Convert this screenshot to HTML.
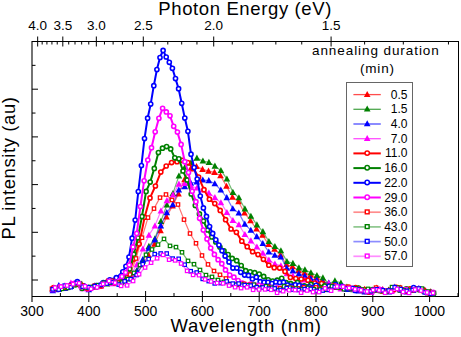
<!DOCTYPE html>
<html><head><meta charset="utf-8"><style>
html,body{margin:0;padding:0;background:#fff;width:461px;height:337px;overflow:hidden}
svg{display:block}
</style></head><body>
<svg width="461" height="337" viewBox="0 0 461 337">
<line x1="32" y1="41.5" x2="458.5" y2="41.5" stroke="#000"/>
<line x1="32" y1="296.5" x2="458.5" y2="296.5" stroke="#000"/>
<line x1="32" y1="41" x2="32" y2="302" stroke="#000" stroke-width="1.1"/>
<line x1="458.5" y1="41" x2="458.5" y2="297" stroke="#000"/>
<line x1="60.40" y1="293" x2="60.40" y2="296" stroke="#000"/>
<line x1="88.80" y1="291" x2="88.80" y2="302" stroke="#000"/>
<line x1="117.20" y1="293" x2="117.20" y2="296" stroke="#000"/>
<line x1="145.60" y1="291" x2="145.60" y2="302" stroke="#000"/>
<line x1="174.00" y1="293" x2="174.00" y2="296" stroke="#000"/>
<line x1="202.40" y1="291" x2="202.40" y2="302" stroke="#000"/>
<line x1="230.80" y1="293" x2="230.80" y2="296" stroke="#000"/>
<line x1="259.20" y1="291" x2="259.20" y2="302" stroke="#000"/>
<line x1="287.60" y1="293" x2="287.60" y2="296" stroke="#000"/>
<line x1="316.00" y1="291" x2="316.00" y2="302" stroke="#000"/>
<line x1="344.40" y1="293" x2="344.40" y2="296" stroke="#000"/>
<line x1="372.80" y1="291" x2="372.80" y2="302" stroke="#000"/>
<line x1="401.20" y1="293" x2="401.20" y2="296" stroke="#000"/>
<line x1="429.60" y1="291" x2="429.60" y2="302" stroke="#000"/>
<line x1="458.00" y1="293" x2="458.00" y2="296" stroke="#000"/>
<line x1="448.46" y1="41" x2="448.46" y2="44.5" stroke="#000"/>
<line x1="403.31" y1="41" x2="403.31" y2="44.5" stroke="#000"/>
<line x1="364.62" y1="41" x2="364.62" y2="44.5" stroke="#000"/>
<line x1="331.09" y1="36.5" x2="331.09" y2="46.5" stroke="#000"/>
<line x1="301.74" y1="41" x2="301.74" y2="44.5" stroke="#000"/>
<line x1="275.85" y1="41" x2="275.85" y2="44.5" stroke="#000"/>
<line x1="252.84" y1="41" x2="252.84" y2="44.5" stroke="#000"/>
<line x1="232.25" y1="41" x2="232.25" y2="44.5" stroke="#000"/>
<line x1="213.71" y1="36.5" x2="213.71" y2="46.5" stroke="#000"/>
<line x1="196.95" y1="41" x2="196.95" y2="44.5" stroke="#000"/>
<line x1="181.70" y1="41" x2="181.70" y2="44.5" stroke="#000"/>
<line x1="167.79" y1="41" x2="167.79" y2="44.5" stroke="#000"/>
<line x1="155.03" y1="41" x2="155.03" y2="44.5" stroke="#000"/>
<line x1="143.29" y1="36.5" x2="143.29" y2="46.5" stroke="#000"/>
<line x1="132.46" y1="41" x2="132.46" y2="44.5" stroke="#000"/>
<line x1="122.43" y1="41" x2="122.43" y2="44.5" stroke="#000"/>
<line x1="113.11" y1="41" x2="113.11" y2="44.5" stroke="#000"/>
<line x1="104.44" y1="41" x2="104.44" y2="44.5" stroke="#000"/>
<line x1="96.34" y1="36.5" x2="96.34" y2="46.5" stroke="#000"/>
<line x1="88.77" y1="41" x2="88.77" y2="44.5" stroke="#000"/>
<line x1="81.67" y1="41" x2="81.67" y2="44.5" stroke="#000"/>
<line x1="75.00" y1="41" x2="75.00" y2="44.5" stroke="#000"/>
<line x1="68.73" y1="41" x2="68.73" y2="44.5" stroke="#000"/>
<line x1="62.81" y1="36.5" x2="62.81" y2="46.5" stroke="#000"/>
<line x1="57.22" y1="41" x2="57.22" y2="44.5" stroke="#000"/>
<line x1="51.93" y1="41" x2="51.93" y2="44.5" stroke="#000"/>
<line x1="46.92" y1="41" x2="46.92" y2="44.5" stroke="#000"/>
<line x1="42.17" y1="41" x2="42.17" y2="44.5" stroke="#000"/>
<line x1="37.66" y1="36.5" x2="37.66" y2="46.5" stroke="#000"/>
<line x1="32" y1="65.35" x2="35.5" y2="65.35" stroke="#000"/>
<line x1="32" y1="89.20" x2="38" y2="89.20" stroke="#000"/>
<line x1="32" y1="113.05" x2="35.5" y2="113.05" stroke="#000"/>
<line x1="32" y1="136.90" x2="38" y2="136.90" stroke="#000"/>
<line x1="32" y1="160.75" x2="35.5" y2="160.75" stroke="#000"/>
<line x1="32" y1="184.60" x2="38" y2="184.60" stroke="#000"/>
<line x1="32" y1="208.45" x2="35.5" y2="208.45" stroke="#000"/>
<line x1="32" y1="232.30" x2="38" y2="232.30" stroke="#000"/>
<line x1="32" y1="256.15" x2="35.5" y2="256.15" stroke="#000"/>
<line x1="32" y1="280.00" x2="38" y2="280.00" stroke="#000"/>
<text x="32.0" y="315.8" text-anchor="middle" style="font-family:'Liberation Sans',sans-serif;font-size:14px">300</text>
<text x="88.8" y="315.8" text-anchor="middle" style="font-family:'Liberation Sans',sans-serif;font-size:14px">400</text>
<text x="145.6" y="315.8" text-anchor="middle" style="font-family:'Liberation Sans',sans-serif;font-size:14px">500</text>
<text x="202.4" y="315.8" text-anchor="middle" style="font-family:'Liberation Sans',sans-serif;font-size:14px">600</text>
<text x="259.2" y="315.8" text-anchor="middle" style="font-family:'Liberation Sans',sans-serif;font-size:14px">700</text>
<text x="316.0" y="315.8" text-anchor="middle" style="font-family:'Liberation Sans',sans-serif;font-size:14px">800</text>
<text x="372.8" y="315.8" text-anchor="middle" style="font-family:'Liberation Sans',sans-serif;font-size:14px">900</text>
<text x="429.6" y="315.8" text-anchor="middle" style="font-family:'Liberation Sans',sans-serif;font-size:14px">1000</text>
<text x="37.7" y="30" text-anchor="middle" style="font-family:'Liberation Sans',sans-serif;font-size:13.5px">4.0</text>
<text x="62.8" y="30" text-anchor="middle" style="font-family:'Liberation Sans',sans-serif;font-size:13.5px">3.5</text>
<text x="96.3" y="30" text-anchor="middle" style="font-family:'Liberation Sans',sans-serif;font-size:13.5px">3.0</text>
<text x="143.3" y="30" text-anchor="middle" style="font-family:'Liberation Sans',sans-serif;font-size:13.5px">2.5</text>
<text x="213.7" y="30" text-anchor="middle" style="font-family:'Liberation Sans',sans-serif;font-size:13.5px">2.0</text>
<text x="331.1" y="30" text-anchor="middle" style="font-family:'Liberation Sans',sans-serif;font-size:13.5px">1.5</text>
<text x="158.3" y="14.6" style="font-family:'Liberation Sans',sans-serif;font-size:18.5px;letter-spacing:0.62px">Photon Energy (eV)</text>
<text x="170.5" y="331.5" style="font-family:'Liberation Sans',sans-serif;font-size:18.5px;letter-spacing:0.74px">Wavelength (nm)</text>
<text transform="translate(14.6,239.5) rotate(-90)" x="0" y="0" style="font-family:'Liberation Sans',sans-serif;font-size:18.5px;letter-spacing:0.59px">PL intensity (au)</text>
<text x="312" y="54.7" style="font-family:'Liberation Sans',sans-serif;font-size:13.5px;letter-spacing:0.92px">annealing duration</text>
<text x="360" y="72.6" style="font-family:'Liberation Sans',sans-serif;font-size:13.5px;letter-spacing:0.8px">(min)</text>
<g>
<g>
<polyline points="52.5,289.0 58.5,289.5 64.5,288.3 70.5,285.3 76.5,282.9 82.5,286.7 88.5,288.5 94.5,287.1 100.5,285.8 106.5,281.4 112.5,282.8 118.5,280.3 124.5,279.4 130.5,275.8 136.5,274.2 142.5,264.7 148.5,255.2 154.5,244.2 160.5,230.6 166.5,216.9 172.5,205.9 178.5,194.0 184.5,179.6 190.5,169.0 196.5,166.4 202.5,169.3 208.5,171.1 214.5,172.3 220.5,175.7 226.5,186.2 232.5,197.2 238.5,201.6 244.5,213.0 250.5,220.7 256.5,229.0 262.5,235.1 268.5,244.5 274.5,249.2 280.5,255.0 286.5,264.5 292.5,266.6 298.5,270.6 304.5,272.9 310.5,275.1 316.5,277.3 322.5,280.5 328.5,283.9 334.5,285.6 340.5,287.0 346.5,288.0 352.5,289.3 358.5,288.4 364.5,289.2 370.5,291.8 376.5,288.0 382.5,289.4 388.5,290.1 394.5,288.2 400.5,288.1 406.5,289.5 412.5,290.3 418.5,289.5 424.5,290.9 430.5,291.8" fill="none" stroke="#ff0000" stroke-width="1.2" stroke-linejoin="round" stroke-opacity="0.55"/>
<path d="M52.5,285.5L55.8,291.6L49.2,291.6Z" fill="#ff0000"/>
<path d="M58.5,286.0L61.8,292.1L55.2,292.1Z" fill="#ff0000"/>
<path d="M64.5,284.8L67.8,290.9L61.2,290.9Z" fill="#ff0000"/>
<path d="M70.5,281.8L73.8,287.9L67.2,287.9Z" fill="#ff0000"/>
<path d="M76.5,279.4L79.8,285.5L73.2,285.5Z" fill="#ff0000"/>
<path d="M82.5,283.2L85.8,289.3L79.2,289.3Z" fill="#ff0000"/>
<path d="M88.5,285.0L91.8,291.1L85.2,291.1Z" fill="#ff0000"/>
<path d="M94.5,283.6L97.8,289.7L91.2,289.7Z" fill="#ff0000"/>
<path d="M100.5,282.3L103.8,288.4L97.2,288.4Z" fill="#ff0000"/>
<path d="M106.5,277.9L109.8,284.0L103.2,284.0Z" fill="#ff0000"/>
<path d="M112.5,279.3L115.8,285.4L109.2,285.4Z" fill="#ff0000"/>
<path d="M118.5,276.8L121.8,282.9L115.2,282.9Z" fill="#ff0000"/>
<path d="M124.5,275.9L127.8,282.0L121.2,282.0Z" fill="#ff0000"/>
<path d="M130.5,272.3L133.8,278.4L127.2,278.4Z" fill="#ff0000"/>
<path d="M136.5,270.7L139.8,276.8L133.2,276.8Z" fill="#ff0000"/>
<path d="M142.5,261.2L145.8,267.3L139.2,267.3Z" fill="#ff0000"/>
<path d="M148.5,251.7L151.8,257.8L145.2,257.8Z" fill="#ff0000"/>
<path d="M154.5,240.7L157.8,246.8L151.2,246.8Z" fill="#ff0000"/>
<path d="M160.5,227.1L163.8,233.2L157.2,233.2Z" fill="#ff0000"/>
<path d="M166.5,213.4L169.8,219.5L163.2,219.5Z" fill="#ff0000"/>
<path d="M172.5,202.4L175.8,208.5L169.2,208.5Z" fill="#ff0000"/>
<path d="M178.5,190.5L181.8,196.6L175.2,196.6Z" fill="#ff0000"/>
<path d="M184.5,176.1L187.8,182.2L181.2,182.2Z" fill="#ff0000"/>
<path d="M190.5,165.5L193.8,171.6L187.2,171.6Z" fill="#ff0000"/>
<path d="M196.5,162.9L199.8,169.0L193.2,169.0Z" fill="#ff0000"/>
<path d="M202.5,165.8L205.8,171.9L199.2,171.9Z" fill="#ff0000"/>
<path d="M208.5,167.6L211.8,173.7L205.2,173.7Z" fill="#ff0000"/>
<path d="M214.5,168.8L217.8,174.9L211.2,174.9Z" fill="#ff0000"/>
<path d="M220.5,172.2L223.8,178.3L217.2,178.3Z" fill="#ff0000"/>
<path d="M226.5,182.7L229.8,188.8L223.2,188.8Z" fill="#ff0000"/>
<path d="M232.5,193.7L235.8,199.8L229.2,199.8Z" fill="#ff0000"/>
<path d="M238.5,198.1L241.8,204.2L235.2,204.2Z" fill="#ff0000"/>
<path d="M244.5,209.5L247.8,215.6L241.2,215.6Z" fill="#ff0000"/>
<path d="M250.5,217.2L253.8,223.3L247.2,223.3Z" fill="#ff0000"/>
<path d="M256.5,225.5L259.8,231.6L253.2,231.6Z" fill="#ff0000"/>
<path d="M262.5,231.6L265.8,237.7L259.2,237.7Z" fill="#ff0000"/>
<path d="M268.5,241.0L271.8,247.1L265.2,247.1Z" fill="#ff0000"/>
<path d="M274.5,245.7L277.8,251.8L271.2,251.8Z" fill="#ff0000"/>
<path d="M280.5,251.5L283.8,257.6L277.2,257.6Z" fill="#ff0000"/>
<path d="M286.5,261.0L289.8,267.1L283.2,267.1Z" fill="#ff0000"/>
<path d="M292.5,263.1L295.8,269.2L289.2,269.2Z" fill="#ff0000"/>
<path d="M298.5,267.1L301.8,273.2L295.2,273.2Z" fill="#ff0000"/>
<path d="M304.5,269.4L307.8,275.5L301.2,275.5Z" fill="#ff0000"/>
<path d="M310.5,271.6L313.8,277.7L307.2,277.7Z" fill="#ff0000"/>
<path d="M316.5,273.8L319.8,279.9L313.2,279.9Z" fill="#ff0000"/>
<path d="M322.5,277.0L325.8,283.1L319.2,283.1Z" fill="#ff0000"/>
<path d="M328.5,280.4L331.8,286.5L325.2,286.5Z" fill="#ff0000"/>
<path d="M334.5,282.1L337.8,288.2L331.2,288.2Z" fill="#ff0000"/>
<path d="M340.5,283.5L343.8,289.6L337.2,289.6Z" fill="#ff0000"/>
<path d="M346.5,284.5L349.8,290.6L343.2,290.6Z" fill="#ff0000"/>
<path d="M352.5,285.8L355.8,291.9L349.2,291.9Z" fill="#ff0000"/>
<path d="M358.5,284.9L361.8,291.0L355.2,291.0Z" fill="#ff0000"/>
<path d="M364.5,285.7L367.8,291.8L361.2,291.8Z" fill="#ff0000"/>
<path d="M370.5,288.3L373.8,294.4L367.2,294.4Z" fill="#ff0000"/>
<path d="M376.5,284.5L379.8,290.6L373.2,290.6Z" fill="#ff0000"/>
<path d="M382.5,285.9L385.8,292.0L379.2,292.0Z" fill="#ff0000"/>
<path d="M388.5,286.6L391.8,292.7L385.2,292.7Z" fill="#ff0000"/>
<path d="M394.5,284.7L397.8,290.8L391.2,290.8Z" fill="#ff0000"/>
<path d="M400.5,284.6L403.8,290.7L397.2,290.7Z" fill="#ff0000"/>
<path d="M406.5,286.0L409.8,292.1L403.2,292.1Z" fill="#ff0000"/>
<path d="M412.5,286.8L415.8,292.9L409.2,292.9Z" fill="#ff0000"/>
<path d="M418.5,286.0L421.8,292.1L415.2,292.1Z" fill="#ff0000"/>
<path d="M424.5,287.4L427.8,293.5L421.2,293.5Z" fill="#ff0000"/>
<path d="M430.5,288.3L433.8,294.4L427.2,294.4Z" fill="#ff0000"/>
</g>
<g>
<polyline points="52.9,289.0 58.9,289.1 64.9,287.8 70.9,286.3 76.9,284.3 82.9,286.4 88.9,287.4 94.9,285.8 100.9,284.9 106.9,283.8 112.9,281.3 118.9,280.9 124.9,278.1 130.9,276.5 136.9,270.7 142.9,261.0 148.9,246.3 154.9,238.8 160.9,221.3 166.9,205.0 172.9,193.4 178.9,175.9 184.9,167.2 190.9,162.9 196.9,158.1 202.9,161.0 208.9,162.3 214.9,166.1 220.9,170.4 226.9,178.9 232.9,192.3 238.9,197.7 244.9,208.8 250.9,216.2 256.9,224.8 262.9,231.6 268.9,241.5 274.9,246.5 280.9,250.7 286.9,261.4 292.9,263.3 298.9,267.8 304.9,269.7 310.9,272.7 316.9,275.5 322.9,277.8 328.9,283.7 334.9,280.8 340.9,283.0 346.9,287.1 352.9,289.3 358.9,289.9 364.9,290.4 370.9,291.1 376.9,288.4 382.9,290.8 388.9,290.2 394.9,288.2 400.9,288.7 406.9,291.5 412.9,288.6 418.9,289.6 424.9,290.7 430.9,292.0" fill="none" stroke="#008000" stroke-width="1.2" stroke-linejoin="round" stroke-opacity="0.55"/>
<path d="M52.9,285.5L56.2,291.6L49.6,291.6Z" fill="#008000"/>
<path d="M58.9,285.6L62.2,291.7L55.6,291.7Z" fill="#008000"/>
<path d="M64.9,284.3L68.2,290.4L61.6,290.4Z" fill="#008000"/>
<path d="M70.9,282.8L74.2,288.9L67.6,288.9Z" fill="#008000"/>
<path d="M76.9,280.8L80.2,286.9L73.6,286.9Z" fill="#008000"/>
<path d="M82.9,282.9L86.2,289.0L79.6,289.0Z" fill="#008000"/>
<path d="M88.9,283.9L92.2,290.0L85.6,290.0Z" fill="#008000"/>
<path d="M94.9,282.3L98.2,288.4L91.6,288.4Z" fill="#008000"/>
<path d="M100.9,281.4L104.2,287.5L97.6,287.5Z" fill="#008000"/>
<path d="M106.9,280.3L110.2,286.4L103.6,286.4Z" fill="#008000"/>
<path d="M112.9,277.8L116.2,283.9L109.6,283.9Z" fill="#008000"/>
<path d="M118.9,277.4L122.2,283.5L115.6,283.5Z" fill="#008000"/>
<path d="M124.9,274.6L128.2,280.7L121.6,280.7Z" fill="#008000"/>
<path d="M130.9,273.0L134.2,279.1L127.6,279.1Z" fill="#008000"/>
<path d="M136.9,267.2L140.2,273.3L133.6,273.3Z" fill="#008000"/>
<path d="M142.9,257.5L146.2,263.6L139.6,263.6Z" fill="#008000"/>
<path d="M148.9,242.8L152.2,248.9L145.6,248.9Z" fill="#008000"/>
<path d="M154.9,235.3L158.2,241.4L151.6,241.4Z" fill="#008000"/>
<path d="M160.9,217.8L164.2,223.9L157.6,223.9Z" fill="#008000"/>
<path d="M166.9,201.5L170.2,207.6L163.6,207.6Z" fill="#008000"/>
<path d="M172.9,189.9L176.2,196.0L169.6,196.0Z" fill="#008000"/>
<path d="M178.9,172.4L182.2,178.5L175.6,178.5Z" fill="#008000"/>
<path d="M184.9,163.7L188.2,169.8L181.6,169.8Z" fill="#008000"/>
<path d="M190.9,159.4L194.2,165.5L187.6,165.5Z" fill="#008000"/>
<path d="M196.9,154.6L200.2,160.7L193.6,160.7Z" fill="#008000"/>
<path d="M202.9,157.5L206.2,163.6L199.6,163.6Z" fill="#008000"/>
<path d="M208.9,158.8L212.2,164.9L205.6,164.9Z" fill="#008000"/>
<path d="M214.9,162.6L218.2,168.7L211.6,168.7Z" fill="#008000"/>
<path d="M220.9,166.9L224.2,173.0L217.6,173.0Z" fill="#008000"/>
<path d="M226.9,175.4L230.2,181.5L223.6,181.5Z" fill="#008000"/>
<path d="M232.9,188.8L236.2,194.9L229.6,194.9Z" fill="#008000"/>
<path d="M238.9,194.2L242.2,200.3L235.6,200.3Z" fill="#008000"/>
<path d="M244.9,205.3L248.2,211.4L241.6,211.4Z" fill="#008000"/>
<path d="M250.9,212.7L254.2,218.8L247.6,218.8Z" fill="#008000"/>
<path d="M256.9,221.3L260.2,227.4L253.6,227.4Z" fill="#008000"/>
<path d="M262.9,228.1L266.2,234.2L259.6,234.2Z" fill="#008000"/>
<path d="M268.9,238.0L272.2,244.1L265.6,244.1Z" fill="#008000"/>
<path d="M274.9,243.0L278.2,249.1L271.6,249.1Z" fill="#008000"/>
<path d="M280.9,247.2L284.2,253.3L277.6,253.3Z" fill="#008000"/>
<path d="M286.9,257.9L290.2,264.0L283.6,264.0Z" fill="#008000"/>
<path d="M292.9,259.8L296.2,265.9L289.6,265.9Z" fill="#008000"/>
<path d="M298.9,264.3L302.2,270.4L295.6,270.4Z" fill="#008000"/>
<path d="M304.9,266.2L308.2,272.3L301.6,272.3Z" fill="#008000"/>
<path d="M310.9,269.2L314.2,275.3L307.6,275.3Z" fill="#008000"/>
<path d="M316.9,272.0L320.2,278.1L313.6,278.1Z" fill="#008000"/>
<path d="M322.9,274.3L326.2,280.4L319.6,280.4Z" fill="#008000"/>
<path d="M328.9,280.2L332.2,286.3L325.6,286.3Z" fill="#008000"/>
<path d="M334.9,277.3L338.2,283.4L331.6,283.4Z" fill="#008000"/>
<path d="M340.9,279.5L344.2,285.6L337.6,285.6Z" fill="#008000"/>
<path d="M346.9,283.6L350.2,289.7L343.6,289.7Z" fill="#008000"/>
<path d="M352.9,285.8L356.2,291.9L349.6,291.9Z" fill="#008000"/>
<path d="M358.9,286.4L362.2,292.5L355.6,292.5Z" fill="#008000"/>
<path d="M364.9,286.9L368.2,293.0L361.6,293.0Z" fill="#008000"/>
<path d="M370.9,287.6L374.2,293.7L367.6,293.7Z" fill="#008000"/>
<path d="M376.9,284.9L380.2,291.0L373.6,291.0Z" fill="#008000"/>
<path d="M382.9,287.3L386.2,293.4L379.6,293.4Z" fill="#008000"/>
<path d="M388.9,286.7L392.2,292.8L385.6,292.8Z" fill="#008000"/>
<path d="M394.9,284.7L398.2,290.8L391.6,290.8Z" fill="#008000"/>
<path d="M400.9,285.2L404.2,291.3L397.6,291.3Z" fill="#008000"/>
<path d="M406.9,288.0L410.2,294.1L403.6,294.1Z" fill="#008000"/>
<path d="M412.9,285.1L416.2,291.2L409.6,291.2Z" fill="#008000"/>
<path d="M418.9,286.1L422.2,292.2L415.6,292.2Z" fill="#008000"/>
<path d="M424.9,287.2L428.2,293.3L421.6,293.3Z" fill="#008000"/>
<path d="M430.9,288.5L434.2,294.6L427.6,294.6Z" fill="#008000"/>
</g>
<g>
<polyline points="52.8,290.6 58.8,285.4 64.8,288.1 70.8,285.7 76.8,284.1 82.8,287.8 88.8,289.6 94.8,287.1 100.8,284.6 106.8,283.5 112.8,281.7 118.8,280.2 124.8,280.7 130.8,278.1 136.8,270.9 142.8,259.4 148.8,248.1 154.8,239.8 160.8,225.8 166.8,212.6 172.8,204.6 178.8,189.9 184.8,186.7 190.8,183.1 196.8,182.0 202.8,180.0 208.8,180.6 214.8,183.7 220.8,190.0 226.8,197.6 232.8,208.7 238.8,212.9 244.8,224.1 250.8,230.2 256.8,236.6 262.8,243.4 268.8,251.9 274.8,255.2 280.8,256.9 286.8,268.1 292.8,270.8 298.8,273.9 304.8,276.0 310.8,278.8 316.8,280.0 322.8,282.6 328.8,282.9 334.8,287.3 340.8,287.1 346.8,289.4 352.8,289.1 358.8,291.0 364.8,292.0 370.8,291.8 376.8,289.8 382.8,290.4 388.8,291.9 394.8,287.1 400.8,289.6 406.8,291.8 412.8,290.3 418.8,288.5 424.8,290.5 430.8,292.2" fill="none" stroke="#0000ff" stroke-width="1.2" stroke-linejoin="round" stroke-opacity="0.55"/>
<path d="M52.8,287.1L56.1,293.2L49.5,293.2Z" fill="#0000ff"/>
<path d="M58.8,281.9L62.1,288.0L55.5,288.0Z" fill="#0000ff"/>
<path d="M64.8,284.6L68.1,290.7L61.5,290.7Z" fill="#0000ff"/>
<path d="M70.8,282.2L74.1,288.3L67.5,288.3Z" fill="#0000ff"/>
<path d="M76.8,280.6L80.1,286.7L73.5,286.7Z" fill="#0000ff"/>
<path d="M82.8,284.3L86.1,290.4L79.5,290.4Z" fill="#0000ff"/>
<path d="M88.8,286.1L92.1,292.2L85.5,292.2Z" fill="#0000ff"/>
<path d="M94.8,283.6L98.1,289.7L91.5,289.7Z" fill="#0000ff"/>
<path d="M100.8,281.1L104.1,287.2L97.5,287.2Z" fill="#0000ff"/>
<path d="M106.8,280.0L110.1,286.1L103.5,286.1Z" fill="#0000ff"/>
<path d="M112.8,278.2L116.1,284.3L109.5,284.3Z" fill="#0000ff"/>
<path d="M118.8,276.7L122.1,282.8L115.5,282.8Z" fill="#0000ff"/>
<path d="M124.8,277.2L128.1,283.3L121.5,283.3Z" fill="#0000ff"/>
<path d="M130.8,274.6L134.1,280.7L127.5,280.7Z" fill="#0000ff"/>
<path d="M136.8,267.4L140.1,273.5L133.5,273.5Z" fill="#0000ff"/>
<path d="M142.8,255.9L146.1,262.0L139.5,262.0Z" fill="#0000ff"/>
<path d="M148.8,244.6L152.1,250.7L145.5,250.7Z" fill="#0000ff"/>
<path d="M154.8,236.3L158.1,242.4L151.5,242.4Z" fill="#0000ff"/>
<path d="M160.8,222.3L164.1,228.4L157.5,228.4Z" fill="#0000ff"/>
<path d="M166.8,209.1L170.1,215.2L163.5,215.2Z" fill="#0000ff"/>
<path d="M172.8,201.1L176.1,207.2L169.5,207.2Z" fill="#0000ff"/>
<path d="M178.8,186.4L182.1,192.5L175.5,192.5Z" fill="#0000ff"/>
<path d="M184.8,183.2L188.1,189.3L181.5,189.3Z" fill="#0000ff"/>
<path d="M190.8,179.6L194.1,185.7L187.5,185.7Z" fill="#0000ff"/>
<path d="M196.8,178.5L200.1,184.6L193.5,184.6Z" fill="#0000ff"/>
<path d="M202.8,176.5L206.1,182.6L199.5,182.6Z" fill="#0000ff"/>
<path d="M208.8,177.1L212.1,183.2L205.5,183.2Z" fill="#0000ff"/>
<path d="M214.8,180.2L218.1,186.3L211.5,186.3Z" fill="#0000ff"/>
<path d="M220.8,186.5L224.1,192.6L217.5,192.6Z" fill="#0000ff"/>
<path d="M226.8,194.1L230.1,200.2L223.5,200.2Z" fill="#0000ff"/>
<path d="M232.8,205.2L236.1,211.3L229.5,211.3Z" fill="#0000ff"/>
<path d="M238.8,209.4L242.1,215.5L235.5,215.5Z" fill="#0000ff"/>
<path d="M244.8,220.6L248.1,226.7L241.5,226.7Z" fill="#0000ff"/>
<path d="M250.8,226.7L254.1,232.8L247.5,232.8Z" fill="#0000ff"/>
<path d="M256.8,233.1L260.1,239.2L253.5,239.2Z" fill="#0000ff"/>
<path d="M262.8,239.9L266.1,246.0L259.5,246.0Z" fill="#0000ff"/>
<path d="M268.8,248.4L272.1,254.5L265.5,254.5Z" fill="#0000ff"/>
<path d="M274.8,251.7L278.1,257.8L271.5,257.8Z" fill="#0000ff"/>
<path d="M280.8,253.4L284.1,259.5L277.5,259.5Z" fill="#0000ff"/>
<path d="M286.8,264.6L290.1,270.7L283.5,270.7Z" fill="#0000ff"/>
<path d="M292.8,267.3L296.1,273.4L289.5,273.4Z" fill="#0000ff"/>
<path d="M298.8,270.4L302.1,276.5L295.5,276.5Z" fill="#0000ff"/>
<path d="M304.8,272.5L308.1,278.6L301.5,278.6Z" fill="#0000ff"/>
<path d="M310.8,275.3L314.1,281.4L307.5,281.4Z" fill="#0000ff"/>
<path d="M316.8,276.5L320.1,282.6L313.5,282.6Z" fill="#0000ff"/>
<path d="M322.8,279.1L326.1,285.2L319.5,285.2Z" fill="#0000ff"/>
<path d="M328.8,279.4L332.1,285.5L325.5,285.5Z" fill="#0000ff"/>
<path d="M334.8,283.8L338.1,289.9L331.5,289.9Z" fill="#0000ff"/>
<path d="M340.8,283.6L344.1,289.7L337.5,289.7Z" fill="#0000ff"/>
<path d="M346.8,285.9L350.1,292.0L343.5,292.0Z" fill="#0000ff"/>
<path d="M352.8,285.6L356.1,291.7L349.5,291.7Z" fill="#0000ff"/>
<path d="M358.8,287.5L362.1,293.6L355.5,293.6Z" fill="#0000ff"/>
<path d="M364.8,288.5L368.1,294.6L361.5,294.6Z" fill="#0000ff"/>
<path d="M370.8,288.3L374.1,294.4L367.5,294.4Z" fill="#0000ff"/>
<path d="M376.8,286.3L380.1,292.4L373.5,292.4Z" fill="#0000ff"/>
<path d="M382.8,286.9L386.1,293.0L379.5,293.0Z" fill="#0000ff"/>
<path d="M388.8,288.4L392.1,294.5L385.5,294.5Z" fill="#0000ff"/>
<path d="M394.8,283.6L398.1,289.7L391.5,289.7Z" fill="#0000ff"/>
<path d="M400.8,286.1L404.1,292.2L397.5,292.2Z" fill="#0000ff"/>
<path d="M406.8,288.3L410.1,294.4L403.5,294.4Z" fill="#0000ff"/>
<path d="M412.8,286.8L416.1,292.9L409.5,292.9Z" fill="#0000ff"/>
<path d="M418.8,285.0L422.1,291.1L415.5,291.1Z" fill="#0000ff"/>
<path d="M424.8,287.0L428.1,293.1L421.5,293.1Z" fill="#0000ff"/>
<path d="M430.8,288.7L434.1,294.8L427.5,294.8Z" fill="#0000ff"/>
</g>
<g>
<polyline points="52.9,289.6 58.9,287.3 64.9,285.8 70.9,283.0 76.9,282.5 82.9,288.6 88.9,288.0 94.9,287.5 100.9,285.9 106.9,282.1 112.9,283.7 118.9,279.7 124.9,281.1 130.9,274.6 136.9,264.6 142.9,248.9 148.9,235.2 154.9,225.9 160.9,210.9 166.9,200.6 172.9,194.8 178.9,184.1 184.9,183.5 190.9,186.0 196.9,188.0 202.9,190.0 208.9,193.1 214.9,197.6 220.9,202.7 226.9,212.4 232.9,220.4 238.9,224.7 244.9,234.5 250.9,240.8 256.9,246.9 262.9,253.2 268.9,260.0 274.9,264.0 280.9,265.7 286.9,273.7 292.9,275.8 298.9,280.4 304.9,279.9 310.9,282.2 316.9,282.8 322.9,284.8 328.9,283.3 334.9,285.5 340.9,288.8 346.9,288.4 352.9,288.5 358.9,289.7 364.9,291.0 370.9,291.6 376.9,289.0 382.9,289.8 388.9,291.3 394.9,287.8 400.9,290.0 406.9,290.8 412.9,289.2 418.9,288.8 424.9,290.4 430.9,293.4" fill="none" stroke="#ff00ff" stroke-width="1.2" stroke-linejoin="round" stroke-opacity="0.55"/>
<path d="M52.9,286.1L56.2,292.2L49.6,292.2Z" fill="#ff00ff"/>
<path d="M58.9,283.8L62.2,289.9L55.6,289.9Z" fill="#ff00ff"/>
<path d="M64.9,282.3L68.2,288.4L61.6,288.4Z" fill="#ff00ff"/>
<path d="M70.9,279.5L74.2,285.6L67.6,285.6Z" fill="#ff00ff"/>
<path d="M76.9,279.0L80.2,285.1L73.6,285.1Z" fill="#ff00ff"/>
<path d="M82.9,285.1L86.2,291.2L79.6,291.2Z" fill="#ff00ff"/>
<path d="M88.9,284.5L92.2,290.6L85.6,290.6Z" fill="#ff00ff"/>
<path d="M94.9,284.0L98.2,290.1L91.6,290.1Z" fill="#ff00ff"/>
<path d="M100.9,282.4L104.2,288.5L97.6,288.5Z" fill="#ff00ff"/>
<path d="M106.9,278.6L110.2,284.7L103.6,284.7Z" fill="#ff00ff"/>
<path d="M112.9,280.2L116.2,286.3L109.6,286.3Z" fill="#ff00ff"/>
<path d="M118.9,276.2L122.2,282.3L115.6,282.3Z" fill="#ff00ff"/>
<path d="M124.9,277.6L128.2,283.7L121.6,283.7Z" fill="#ff00ff"/>
<path d="M130.9,271.1L134.2,277.2L127.6,277.2Z" fill="#ff00ff"/>
<path d="M136.9,261.1L140.2,267.2L133.6,267.2Z" fill="#ff00ff"/>
<path d="M142.9,245.4L146.2,251.5L139.6,251.5Z" fill="#ff00ff"/>
<path d="M148.9,231.7L152.2,237.8L145.6,237.8Z" fill="#ff00ff"/>
<path d="M154.9,222.4L158.2,228.5L151.6,228.5Z" fill="#ff00ff"/>
<path d="M160.9,207.4L164.2,213.5L157.6,213.5Z" fill="#ff00ff"/>
<path d="M166.9,197.1L170.2,203.2L163.6,203.2Z" fill="#ff00ff"/>
<path d="M172.9,191.3L176.2,197.4L169.6,197.4Z" fill="#ff00ff"/>
<path d="M178.9,180.6L182.2,186.7L175.6,186.7Z" fill="#ff00ff"/>
<path d="M184.9,180.0L188.2,186.1L181.6,186.1Z" fill="#ff00ff"/>
<path d="M190.9,182.5L194.2,188.6L187.6,188.6Z" fill="#ff00ff"/>
<path d="M196.9,184.5L200.2,190.6L193.6,190.6Z" fill="#ff00ff"/>
<path d="M202.9,186.5L206.2,192.6L199.6,192.6Z" fill="#ff00ff"/>
<path d="M208.9,189.6L212.2,195.7L205.6,195.7Z" fill="#ff00ff"/>
<path d="M214.9,194.1L218.2,200.2L211.6,200.2Z" fill="#ff00ff"/>
<path d="M220.9,199.2L224.2,205.3L217.6,205.3Z" fill="#ff00ff"/>
<path d="M226.9,208.9L230.2,215.0L223.6,215.0Z" fill="#ff00ff"/>
<path d="M232.9,216.9L236.2,223.0L229.6,223.0Z" fill="#ff00ff"/>
<path d="M238.9,221.2L242.2,227.3L235.6,227.3Z" fill="#ff00ff"/>
<path d="M244.9,231.0L248.2,237.1L241.6,237.1Z" fill="#ff00ff"/>
<path d="M250.9,237.3L254.2,243.4L247.6,243.4Z" fill="#ff00ff"/>
<path d="M256.9,243.4L260.2,249.5L253.6,249.5Z" fill="#ff00ff"/>
<path d="M262.9,249.7L266.2,255.8L259.6,255.8Z" fill="#ff00ff"/>
<path d="M268.9,256.5L272.2,262.6L265.6,262.6Z" fill="#ff00ff"/>
<path d="M274.9,260.5L278.2,266.6L271.6,266.6Z" fill="#ff00ff"/>
<path d="M280.9,262.2L284.2,268.3L277.6,268.3Z" fill="#ff00ff"/>
<path d="M286.9,270.2L290.2,276.3L283.6,276.3Z" fill="#ff00ff"/>
<path d="M292.9,272.3L296.2,278.4L289.6,278.4Z" fill="#ff00ff"/>
<path d="M298.9,276.9L302.2,283.0L295.6,283.0Z" fill="#ff00ff"/>
<path d="M304.9,276.4L308.2,282.5L301.6,282.5Z" fill="#ff00ff"/>
<path d="M310.9,278.7L314.2,284.8L307.6,284.8Z" fill="#ff00ff"/>
<path d="M316.9,279.3L320.2,285.4L313.6,285.4Z" fill="#ff00ff"/>
<path d="M322.9,281.3L326.2,287.4L319.6,287.4Z" fill="#ff00ff"/>
<path d="M328.9,279.8L332.2,285.9L325.6,285.9Z" fill="#ff00ff"/>
<path d="M334.9,282.0L338.2,288.1L331.6,288.1Z" fill="#ff00ff"/>
<path d="M340.9,285.3L344.2,291.4L337.6,291.4Z" fill="#ff00ff"/>
<path d="M346.9,284.9L350.2,291.0L343.6,291.0Z" fill="#ff00ff"/>
<path d="M352.9,285.0L356.2,291.1L349.6,291.1Z" fill="#ff00ff"/>
<path d="M358.9,286.2L362.2,292.3L355.6,292.3Z" fill="#ff00ff"/>
<path d="M364.9,287.5L368.2,293.6L361.6,293.6Z" fill="#ff00ff"/>
<path d="M370.9,288.1L374.2,294.2L367.6,294.2Z" fill="#ff00ff"/>
<path d="M376.9,285.5L380.2,291.6L373.6,291.6Z" fill="#ff00ff"/>
<path d="M382.9,286.3L386.2,292.4L379.6,292.4Z" fill="#ff00ff"/>
<path d="M388.9,287.8L392.2,293.9L385.6,293.9Z" fill="#ff00ff"/>
<path d="M394.9,284.3L398.2,290.4L391.6,290.4Z" fill="#ff00ff"/>
<path d="M400.9,286.5L404.2,292.6L397.6,292.6Z" fill="#ff00ff"/>
<path d="M406.9,287.3L410.2,293.4L403.6,293.4Z" fill="#ff00ff"/>
<path d="M412.9,285.7L416.2,291.8L409.6,291.8Z" fill="#ff00ff"/>
<path d="M418.9,285.3L422.2,291.4L415.6,291.4Z" fill="#ff00ff"/>
<path d="M424.9,286.9L428.2,293.0L421.6,293.0Z" fill="#ff00ff"/>
<path d="M430.9,289.9L434.2,296.0L427.6,296.0Z" fill="#ff00ff"/>
</g>
<g>
<polyline points="53.6,287.7 60.4,287.1 67.2,287.0 74.0,283.9 80.8,284.7 87.6,288.7 94.4,285.9 101.2,285.8 108.0,282.1 114.8,282.7 121.6,279.6 128.4,273.4 133.8,259.1 139.2,244.1 144.6,217.2 150.0,197.9 155.4,186.0 160.8,172.1 166.2,166.0 171.6,162.6 177.0,161.7 182.4,160.3 187.8,162.6 193.2,168.3 198.6,177.1 204.0,189.7 209.4,199.2 214.8,203.6 220.2,210.4 225.6,219.7 231.0,229.0 236.4,232.3 241.8,241.2 247.2,246.7 252.6,251.7 258.0,254.6 263.4,259.3 268.8,265.2 274.2,267.7 279.6,268.1 285.0,271.4 290.4,277.5 295.8,278.6 301.2,279.0 308.0,280.2 314.8,283.0 321.6,283.4 328.4,286.1 335.2,287.1 342.0,287.3 348.8,287.0 355.6,287.5 362.4,290.4 369.2,292.0 376.0,290.0 382.8,290.7 389.6,290.7 396.4,287.3 403.2,289.9 410.0,288.9 416.8,289.2 423.6,290.2 430.4,292.4" fill="none" stroke="#ff0000" stroke-width="2" stroke-linejoin="round"/>
<circle cx="53.6" cy="287.7" r="2.05" fill="#fff" stroke="#ff0000" stroke-width="1.6"/>
<circle cx="60.4" cy="287.1" r="2.05" fill="#fff" stroke="#ff0000" stroke-width="1.6"/>
<circle cx="67.2" cy="287.0" r="2.05" fill="#fff" stroke="#ff0000" stroke-width="1.6"/>
<circle cx="74.0" cy="283.9" r="2.05" fill="#fff" stroke="#ff0000" stroke-width="1.6"/>
<circle cx="80.8" cy="284.7" r="2.05" fill="#fff" stroke="#ff0000" stroke-width="1.6"/>
<circle cx="87.6" cy="288.7" r="2.05" fill="#fff" stroke="#ff0000" stroke-width="1.6"/>
<circle cx="94.4" cy="285.9" r="2.05" fill="#fff" stroke="#ff0000" stroke-width="1.6"/>
<circle cx="101.2" cy="285.8" r="2.05" fill="#fff" stroke="#ff0000" stroke-width="1.6"/>
<circle cx="108.0" cy="282.1" r="2.05" fill="#fff" stroke="#ff0000" stroke-width="1.6"/>
<circle cx="114.8" cy="282.7" r="2.05" fill="#fff" stroke="#ff0000" stroke-width="1.6"/>
<circle cx="121.6" cy="279.6" r="2.05" fill="#fff" stroke="#ff0000" stroke-width="1.6"/>
<circle cx="128.4" cy="273.4" r="2.05" fill="#fff" stroke="#ff0000" stroke-width="1.6"/>
<circle cx="133.8" cy="259.1" r="2.05" fill="#fff" stroke="#ff0000" stroke-width="1.6"/>
<circle cx="139.2" cy="244.1" r="2.05" fill="#fff" stroke="#ff0000" stroke-width="1.6"/>
<circle cx="144.6" cy="217.2" r="2.05" fill="#fff" stroke="#ff0000" stroke-width="1.6"/>
<circle cx="150.0" cy="197.9" r="2.05" fill="#fff" stroke="#ff0000" stroke-width="1.6"/>
<circle cx="155.4" cy="186.0" r="2.05" fill="#fff" stroke="#ff0000" stroke-width="1.6"/>
<circle cx="160.8" cy="172.1" r="2.05" fill="#fff" stroke="#ff0000" stroke-width="1.6"/>
<circle cx="166.2" cy="166.0" r="2.05" fill="#fff" stroke="#ff0000" stroke-width="1.6"/>
<circle cx="171.6" cy="162.6" r="2.05" fill="#fff" stroke="#ff0000" stroke-width="1.6"/>
<circle cx="177.0" cy="161.7" r="2.05" fill="#fff" stroke="#ff0000" stroke-width="1.6"/>
<circle cx="182.4" cy="160.3" r="2.05" fill="#fff" stroke="#ff0000" stroke-width="1.6"/>
<circle cx="187.8" cy="162.6" r="2.05" fill="#fff" stroke="#ff0000" stroke-width="1.6"/>
<circle cx="193.2" cy="168.3" r="2.05" fill="#fff" stroke="#ff0000" stroke-width="1.6"/>
<circle cx="198.6" cy="177.1" r="2.05" fill="#fff" stroke="#ff0000" stroke-width="1.6"/>
<circle cx="204.0" cy="189.7" r="2.05" fill="#fff" stroke="#ff0000" stroke-width="1.6"/>
<circle cx="209.4" cy="199.2" r="2.05" fill="#fff" stroke="#ff0000" stroke-width="1.6"/>
<circle cx="214.8" cy="203.6" r="2.05" fill="#fff" stroke="#ff0000" stroke-width="1.6"/>
<circle cx="220.2" cy="210.4" r="2.05" fill="#fff" stroke="#ff0000" stroke-width="1.6"/>
<circle cx="225.6" cy="219.7" r="2.05" fill="#fff" stroke="#ff0000" stroke-width="1.6"/>
<circle cx="231.0" cy="229.0" r="2.05" fill="#fff" stroke="#ff0000" stroke-width="1.6"/>
<circle cx="236.4" cy="232.3" r="2.05" fill="#fff" stroke="#ff0000" stroke-width="1.6"/>
<circle cx="241.8" cy="241.2" r="2.05" fill="#fff" stroke="#ff0000" stroke-width="1.6"/>
<circle cx="247.2" cy="246.7" r="2.05" fill="#fff" stroke="#ff0000" stroke-width="1.6"/>
<circle cx="252.6" cy="251.7" r="2.05" fill="#fff" stroke="#ff0000" stroke-width="1.6"/>
<circle cx="258.0" cy="254.6" r="2.05" fill="#fff" stroke="#ff0000" stroke-width="1.6"/>
<circle cx="263.4" cy="259.3" r="2.05" fill="#fff" stroke="#ff0000" stroke-width="1.6"/>
<circle cx="268.8" cy="265.2" r="2.05" fill="#fff" stroke="#ff0000" stroke-width="1.6"/>
<circle cx="274.2" cy="267.7" r="2.05" fill="#fff" stroke="#ff0000" stroke-width="1.6"/>
<circle cx="279.6" cy="268.1" r="2.05" fill="#fff" stroke="#ff0000" stroke-width="1.6"/>
<circle cx="285.0" cy="271.4" r="2.05" fill="#fff" stroke="#ff0000" stroke-width="1.6"/>
<circle cx="290.4" cy="277.5" r="2.05" fill="#fff" stroke="#ff0000" stroke-width="1.6"/>
<circle cx="295.8" cy="278.6" r="2.05" fill="#fff" stroke="#ff0000" stroke-width="1.6"/>
<circle cx="301.2" cy="279.0" r="2.05" fill="#fff" stroke="#ff0000" stroke-width="1.6"/>
<circle cx="308.0" cy="280.2" r="2.05" fill="#fff" stroke="#ff0000" stroke-width="1.6"/>
<circle cx="314.8" cy="283.0" r="2.05" fill="#fff" stroke="#ff0000" stroke-width="1.6"/>
<circle cx="321.6" cy="283.4" r="2.05" fill="#fff" stroke="#ff0000" stroke-width="1.6"/>
<circle cx="328.4" cy="286.1" r="2.05" fill="#fff" stroke="#ff0000" stroke-width="1.6"/>
<circle cx="335.2" cy="287.1" r="2.05" fill="#fff" stroke="#ff0000" stroke-width="1.6"/>
<circle cx="342.0" cy="287.3" r="2.05" fill="#fff" stroke="#ff0000" stroke-width="1.6"/>
<circle cx="348.8" cy="287.0" r="2.05" fill="#fff" stroke="#ff0000" stroke-width="1.6"/>
<circle cx="355.6" cy="287.5" r="2.05" fill="#fff" stroke="#ff0000" stroke-width="1.6"/>
<circle cx="362.4" cy="290.4" r="2.05" fill="#fff" stroke="#ff0000" stroke-width="1.6"/>
<circle cx="369.2" cy="292.0" r="2.05" fill="#fff" stroke="#ff0000" stroke-width="1.6"/>
<circle cx="376.0" cy="290.0" r="2.05" fill="#fff" stroke="#ff0000" stroke-width="1.6"/>
<circle cx="382.8" cy="290.7" r="2.05" fill="#fff" stroke="#ff0000" stroke-width="1.6"/>
<circle cx="389.6" cy="290.7" r="2.05" fill="#fff" stroke="#ff0000" stroke-width="1.6"/>
<circle cx="396.4" cy="287.3" r="2.05" fill="#fff" stroke="#ff0000" stroke-width="1.6"/>
<circle cx="403.2" cy="289.9" r="2.05" fill="#fff" stroke="#ff0000" stroke-width="1.6"/>
<circle cx="410.0" cy="288.9" r="2.05" fill="#fff" stroke="#ff0000" stroke-width="1.6"/>
<circle cx="416.8" cy="289.2" r="2.05" fill="#fff" stroke="#ff0000" stroke-width="1.6"/>
<circle cx="423.6" cy="290.2" r="2.05" fill="#fff" stroke="#ff0000" stroke-width="1.6"/>
<circle cx="430.4" cy="292.4" r="2.05" fill="#fff" stroke="#ff0000" stroke-width="1.6"/>
</g>
<g>
<polyline points="54.9,288.3 61.7,288.3 68.5,287.3 75.3,284.8 82.1,288.3 88.9,287.6 95.7,287.2 102.5,284.1 109.3,280.9 116.1,279.9 122.9,277.9 129.7,268.9 133.8,254.2 137.9,237.8 142.0,216.4 146.1,191.4 150.2,182.1 154.3,168.4 158.4,152.6 162.5,148.2 166.6,146.6 170.7,148.9 174.8,157.8 178.9,158.8 183.0,171.0 187.1,179.9 191.2,194.0 195.3,205.4 199.4,213.9 203.5,221.0 207.6,230.0 211.7,237.0 215.8,242.0 219.9,247.0 224.0,250.9 228.1,254.5 232.2,258.4 236.7,260.7 241.2,265.5 245.7,270.7 250.2,271.8 254.7,272.7 259.2,274.1 263.7,276.4 268.2,279.8 272.7,281.0 277.2,280.2 281.7,278.3 286.2,282.7 290.7,283.7 297.5,282.5 304.3,285.8 311.1,284.4 317.9,286.2 324.7,285.9 331.5,286.4 338.3,287.1 345.1,287.6 351.9,289.5 358.7,288.1 365.5,291.5 372.3,289.6 379.1,290.2 385.9,290.9 392.7,289.8 399.5,290.0 406.3,288.8 413.1,289.7 419.9,289.7 426.7,292.7 433.5,293.7" fill="none" stroke="#008000" stroke-width="2" stroke-linejoin="round"/>
<circle cx="54.9" cy="288.3" r="2.05" fill="#fff" stroke="#008000" stroke-width="1.6"/>
<circle cx="61.7" cy="288.3" r="2.05" fill="#fff" stroke="#008000" stroke-width="1.6"/>
<circle cx="68.5" cy="287.3" r="2.05" fill="#fff" stroke="#008000" stroke-width="1.6"/>
<circle cx="75.3" cy="284.8" r="2.05" fill="#fff" stroke="#008000" stroke-width="1.6"/>
<circle cx="82.1" cy="288.3" r="2.05" fill="#fff" stroke="#008000" stroke-width="1.6"/>
<circle cx="88.9" cy="287.6" r="2.05" fill="#fff" stroke="#008000" stroke-width="1.6"/>
<circle cx="95.7" cy="287.2" r="2.05" fill="#fff" stroke="#008000" stroke-width="1.6"/>
<circle cx="102.5" cy="284.1" r="2.05" fill="#fff" stroke="#008000" stroke-width="1.6"/>
<circle cx="109.3" cy="280.9" r="2.05" fill="#fff" stroke="#008000" stroke-width="1.6"/>
<circle cx="116.1" cy="279.9" r="2.05" fill="#fff" stroke="#008000" stroke-width="1.6"/>
<circle cx="122.9" cy="277.9" r="2.05" fill="#fff" stroke="#008000" stroke-width="1.6"/>
<circle cx="129.7" cy="268.9" r="2.05" fill="#fff" stroke="#008000" stroke-width="1.6"/>
<circle cx="133.8" cy="254.2" r="2.05" fill="#fff" stroke="#008000" stroke-width="1.6"/>
<circle cx="137.9" cy="237.8" r="2.05" fill="#fff" stroke="#008000" stroke-width="1.6"/>
<circle cx="142.0" cy="216.4" r="2.05" fill="#fff" stroke="#008000" stroke-width="1.6"/>
<circle cx="146.1" cy="191.4" r="2.05" fill="#fff" stroke="#008000" stroke-width="1.6"/>
<circle cx="150.2" cy="182.1" r="2.05" fill="#fff" stroke="#008000" stroke-width="1.6"/>
<circle cx="154.3" cy="168.4" r="2.05" fill="#fff" stroke="#008000" stroke-width="1.6"/>
<circle cx="158.4" cy="152.6" r="2.05" fill="#fff" stroke="#008000" stroke-width="1.6"/>
<circle cx="162.5" cy="148.2" r="2.05" fill="#fff" stroke="#008000" stroke-width="1.6"/>
<circle cx="166.6" cy="146.6" r="2.05" fill="#fff" stroke="#008000" stroke-width="1.6"/>
<circle cx="170.7" cy="148.9" r="2.05" fill="#fff" stroke="#008000" stroke-width="1.6"/>
<circle cx="174.8" cy="157.8" r="2.05" fill="#fff" stroke="#008000" stroke-width="1.6"/>
<circle cx="178.9" cy="158.8" r="2.05" fill="#fff" stroke="#008000" stroke-width="1.6"/>
<circle cx="183.0" cy="171.0" r="2.05" fill="#fff" stroke="#008000" stroke-width="1.6"/>
<circle cx="187.1" cy="179.9" r="2.05" fill="#fff" stroke="#008000" stroke-width="1.6"/>
<circle cx="191.2" cy="194.0" r="2.05" fill="#fff" stroke="#008000" stroke-width="1.6"/>
<circle cx="195.3" cy="205.4" r="2.05" fill="#fff" stroke="#008000" stroke-width="1.6"/>
<circle cx="199.4" cy="213.9" r="2.05" fill="#fff" stroke="#008000" stroke-width="1.6"/>
<circle cx="203.5" cy="221.0" r="2.05" fill="#fff" stroke="#008000" stroke-width="1.6"/>
<circle cx="207.6" cy="230.0" r="2.05" fill="#fff" stroke="#008000" stroke-width="1.6"/>
<circle cx="211.7" cy="237.0" r="2.05" fill="#fff" stroke="#008000" stroke-width="1.6"/>
<circle cx="215.8" cy="242.0" r="2.05" fill="#fff" stroke="#008000" stroke-width="1.6"/>
<circle cx="219.9" cy="247.0" r="2.05" fill="#fff" stroke="#008000" stroke-width="1.6"/>
<circle cx="224.0" cy="250.9" r="2.05" fill="#fff" stroke="#008000" stroke-width="1.6"/>
<circle cx="228.1" cy="254.5" r="2.05" fill="#fff" stroke="#008000" stroke-width="1.6"/>
<circle cx="232.2" cy="258.4" r="2.05" fill="#fff" stroke="#008000" stroke-width="1.6"/>
<circle cx="236.7" cy="260.7" r="2.05" fill="#fff" stroke="#008000" stroke-width="1.6"/>
<circle cx="241.2" cy="265.5" r="2.05" fill="#fff" stroke="#008000" stroke-width="1.6"/>
<circle cx="245.7" cy="270.7" r="2.05" fill="#fff" stroke="#008000" stroke-width="1.6"/>
<circle cx="250.2" cy="271.8" r="2.05" fill="#fff" stroke="#008000" stroke-width="1.6"/>
<circle cx="254.7" cy="272.7" r="2.05" fill="#fff" stroke="#008000" stroke-width="1.6"/>
<circle cx="259.2" cy="274.1" r="2.05" fill="#fff" stroke="#008000" stroke-width="1.6"/>
<circle cx="263.7" cy="276.4" r="2.05" fill="#fff" stroke="#008000" stroke-width="1.6"/>
<circle cx="268.2" cy="279.8" r="2.05" fill="#fff" stroke="#008000" stroke-width="1.6"/>
<circle cx="272.7" cy="281.0" r="2.05" fill="#fff" stroke="#008000" stroke-width="1.6"/>
<circle cx="277.2" cy="280.2" r="2.05" fill="#fff" stroke="#008000" stroke-width="1.6"/>
<circle cx="281.7" cy="278.3" r="2.05" fill="#fff" stroke="#008000" stroke-width="1.6"/>
<circle cx="286.2" cy="282.7" r="2.05" fill="#fff" stroke="#008000" stroke-width="1.6"/>
<circle cx="290.7" cy="283.7" r="2.05" fill="#fff" stroke="#008000" stroke-width="1.6"/>
<circle cx="297.5" cy="282.5" r="2.05" fill="#fff" stroke="#008000" stroke-width="1.6"/>
<circle cx="304.3" cy="285.8" r="2.05" fill="#fff" stroke="#008000" stroke-width="1.6"/>
<circle cx="311.1" cy="284.4" r="2.05" fill="#fff" stroke="#008000" stroke-width="1.6"/>
<circle cx="317.9" cy="286.2" r="2.05" fill="#fff" stroke="#008000" stroke-width="1.6"/>
<circle cx="324.7" cy="285.9" r="2.05" fill="#fff" stroke="#008000" stroke-width="1.6"/>
<circle cx="331.5" cy="286.4" r="2.05" fill="#fff" stroke="#008000" stroke-width="1.6"/>
<circle cx="338.3" cy="287.1" r="2.05" fill="#fff" stroke="#008000" stroke-width="1.6"/>
<circle cx="345.1" cy="287.6" r="2.05" fill="#fff" stroke="#008000" stroke-width="1.6"/>
<circle cx="351.9" cy="289.5" r="2.05" fill="#fff" stroke="#008000" stroke-width="1.6"/>
<circle cx="358.7" cy="288.1" r="2.05" fill="#fff" stroke="#008000" stroke-width="1.6"/>
<circle cx="365.5" cy="291.5" r="2.05" fill="#fff" stroke="#008000" stroke-width="1.6"/>
<circle cx="372.3" cy="289.6" r="2.05" fill="#fff" stroke="#008000" stroke-width="1.6"/>
<circle cx="379.1" cy="290.2" r="2.05" fill="#fff" stroke="#008000" stroke-width="1.6"/>
<circle cx="385.9" cy="290.9" r="2.05" fill="#fff" stroke="#008000" stroke-width="1.6"/>
<circle cx="392.7" cy="289.8" r="2.05" fill="#fff" stroke="#008000" stroke-width="1.6"/>
<circle cx="399.5" cy="290.0" r="2.05" fill="#fff" stroke="#008000" stroke-width="1.6"/>
<circle cx="406.3" cy="288.8" r="2.05" fill="#fff" stroke="#008000" stroke-width="1.6"/>
<circle cx="413.1" cy="289.7" r="2.05" fill="#fff" stroke="#008000" stroke-width="1.6"/>
<circle cx="419.9" cy="289.7" r="2.05" fill="#fff" stroke="#008000" stroke-width="1.6"/>
<circle cx="426.7" cy="292.7" r="2.05" fill="#fff" stroke="#008000" stroke-width="1.6"/>
<circle cx="433.5" cy="293.7" r="2.05" fill="#fff" stroke="#008000" stroke-width="1.6"/>
</g>
<g>
<polyline points="57.8,289.4 64.3,287.6 70.8,285.2 77.3,281.5 83.8,285.9 90.3,288.0 96.8,285.7 103.3,282.5 109.8,279.8 116.3,277.7 122.8,271.8 125.9,266.3 129.0,257.0 132.1,238.2 135.2,220.1 138.3,191.5 141.4,165.5 144.5,138.6 147.6,118.2 150.7,104.1 153.8,85.7 156.9,69.6 160.0,57.5 163.1,50.4 166.2,57.0 169.3,62.3 172.4,68.3 175.5,78.6 178.6,88.7 181.7,103.3 184.8,118.1 187.9,131.3 191.0,154.2 194.1,167.6 197.2,179.1 200.3,196.0 203.4,207.9 206.5,216.4 209.6,226.6 212.7,233.4 215.8,239.8 218.9,245.1 222.0,250.7 225.1,256.1 229.0,262.0 232.9,268.1 236.8,268.1 240.7,272.3 244.6,275.1 248.5,275.4 252.4,279.0 256.3,277.2 260.2,281.7 264.1,282.2 268.0,282.3 271.9,283.5 275.8,282.0 279.7,282.5 283.6,282.2 287.5,285.1 291.4,286.2 295.3,284.8 299.2,285.4 303.1,286.6 309.6,286.8 316.1,285.3 322.6,289.5 329.1,286.0 335.6,284.6 342.1,286.4 348.6,288.9 355.1,290.5 361.6,289.8 368.1,290.9 374.6,289.7 381.1,290.1 387.6,291.1 394.1,287.7 400.6,289.6 407.1,291.2 413.6,287.5 420.1,289.2 426.6,292.0 433.1,293.0" fill="none" stroke="#0000ff" stroke-width="2" stroke-linejoin="round"/>
<circle cx="57.8" cy="289.4" r="2.05" fill="#fff" stroke="#0000ff" stroke-width="1.6"/>
<circle cx="64.3" cy="287.6" r="2.05" fill="#fff" stroke="#0000ff" stroke-width="1.6"/>
<circle cx="70.8" cy="285.2" r="2.05" fill="#fff" stroke="#0000ff" stroke-width="1.6"/>
<circle cx="77.3" cy="281.5" r="2.05" fill="#fff" stroke="#0000ff" stroke-width="1.6"/>
<circle cx="83.8" cy="285.9" r="2.05" fill="#fff" stroke="#0000ff" stroke-width="1.6"/>
<circle cx="90.3" cy="288.0" r="2.05" fill="#fff" stroke="#0000ff" stroke-width="1.6"/>
<circle cx="96.8" cy="285.7" r="2.05" fill="#fff" stroke="#0000ff" stroke-width="1.6"/>
<circle cx="103.3" cy="282.5" r="2.05" fill="#fff" stroke="#0000ff" stroke-width="1.6"/>
<circle cx="109.8" cy="279.8" r="2.05" fill="#fff" stroke="#0000ff" stroke-width="1.6"/>
<circle cx="116.3" cy="277.7" r="2.05" fill="#fff" stroke="#0000ff" stroke-width="1.6"/>
<circle cx="122.8" cy="271.8" r="2.05" fill="#fff" stroke="#0000ff" stroke-width="1.6"/>
<circle cx="125.9" cy="266.3" r="2.05" fill="#fff" stroke="#0000ff" stroke-width="1.6"/>
<circle cx="129.0" cy="257.0" r="2.05" fill="#fff" stroke="#0000ff" stroke-width="1.6"/>
<circle cx="132.1" cy="238.2" r="2.05" fill="#fff" stroke="#0000ff" stroke-width="1.6"/>
<circle cx="135.2" cy="220.1" r="2.05" fill="#fff" stroke="#0000ff" stroke-width="1.6"/>
<circle cx="138.3" cy="191.5" r="2.05" fill="#fff" stroke="#0000ff" stroke-width="1.6"/>
<circle cx="141.4" cy="165.5" r="2.05" fill="#fff" stroke="#0000ff" stroke-width="1.6"/>
<circle cx="144.5" cy="138.6" r="2.05" fill="#fff" stroke="#0000ff" stroke-width="1.6"/>
<circle cx="147.6" cy="118.2" r="2.05" fill="#fff" stroke="#0000ff" stroke-width="1.6"/>
<circle cx="150.7" cy="104.1" r="2.05" fill="#fff" stroke="#0000ff" stroke-width="1.6"/>
<circle cx="153.8" cy="85.7" r="2.05" fill="#fff" stroke="#0000ff" stroke-width="1.6"/>
<circle cx="156.9" cy="69.6" r="2.05" fill="#fff" stroke="#0000ff" stroke-width="1.6"/>
<circle cx="160.0" cy="57.5" r="2.05" fill="#fff" stroke="#0000ff" stroke-width="1.6"/>
<circle cx="163.1" cy="50.4" r="2.05" fill="#fff" stroke="#0000ff" stroke-width="1.6"/>
<circle cx="166.2" cy="57.0" r="2.05" fill="#fff" stroke="#0000ff" stroke-width="1.6"/>
<circle cx="169.3" cy="62.3" r="2.05" fill="#fff" stroke="#0000ff" stroke-width="1.6"/>
<circle cx="172.4" cy="68.3" r="2.05" fill="#fff" stroke="#0000ff" stroke-width="1.6"/>
<circle cx="175.5" cy="78.6" r="2.05" fill="#fff" stroke="#0000ff" stroke-width="1.6"/>
<circle cx="178.6" cy="88.7" r="2.05" fill="#fff" stroke="#0000ff" stroke-width="1.6"/>
<circle cx="181.7" cy="103.3" r="2.05" fill="#fff" stroke="#0000ff" stroke-width="1.6"/>
<circle cx="184.8" cy="118.1" r="2.05" fill="#fff" stroke="#0000ff" stroke-width="1.6"/>
<circle cx="187.9" cy="131.3" r="2.05" fill="#fff" stroke="#0000ff" stroke-width="1.6"/>
<circle cx="191.0" cy="154.2" r="2.05" fill="#fff" stroke="#0000ff" stroke-width="1.6"/>
<circle cx="194.1" cy="167.6" r="2.05" fill="#fff" stroke="#0000ff" stroke-width="1.6"/>
<circle cx="197.2" cy="179.1" r="2.05" fill="#fff" stroke="#0000ff" stroke-width="1.6"/>
<circle cx="200.3" cy="196.0" r="2.05" fill="#fff" stroke="#0000ff" stroke-width="1.6"/>
<circle cx="203.4" cy="207.9" r="2.05" fill="#fff" stroke="#0000ff" stroke-width="1.6"/>
<circle cx="206.5" cy="216.4" r="2.05" fill="#fff" stroke="#0000ff" stroke-width="1.6"/>
<circle cx="209.6" cy="226.6" r="2.05" fill="#fff" stroke="#0000ff" stroke-width="1.6"/>
<circle cx="212.7" cy="233.4" r="2.05" fill="#fff" stroke="#0000ff" stroke-width="1.6"/>
<circle cx="215.8" cy="239.8" r="2.05" fill="#fff" stroke="#0000ff" stroke-width="1.6"/>
<circle cx="218.9" cy="245.1" r="2.05" fill="#fff" stroke="#0000ff" stroke-width="1.6"/>
<circle cx="222.0" cy="250.7" r="2.05" fill="#fff" stroke="#0000ff" stroke-width="1.6"/>
<circle cx="225.1" cy="256.1" r="2.05" fill="#fff" stroke="#0000ff" stroke-width="1.6"/>
<circle cx="229.0" cy="262.0" r="2.05" fill="#fff" stroke="#0000ff" stroke-width="1.6"/>
<circle cx="232.9" cy="268.1" r="2.05" fill="#fff" stroke="#0000ff" stroke-width="1.6"/>
<circle cx="236.8" cy="268.1" r="2.05" fill="#fff" stroke="#0000ff" stroke-width="1.6"/>
<circle cx="240.7" cy="272.3" r="2.05" fill="#fff" stroke="#0000ff" stroke-width="1.6"/>
<circle cx="244.6" cy="275.1" r="2.05" fill="#fff" stroke="#0000ff" stroke-width="1.6"/>
<circle cx="248.5" cy="275.4" r="2.05" fill="#fff" stroke="#0000ff" stroke-width="1.6"/>
<circle cx="252.4" cy="279.0" r="2.05" fill="#fff" stroke="#0000ff" stroke-width="1.6"/>
<circle cx="256.3" cy="277.2" r="2.05" fill="#fff" stroke="#0000ff" stroke-width="1.6"/>
<circle cx="260.2" cy="281.7" r="2.05" fill="#fff" stroke="#0000ff" stroke-width="1.6"/>
<circle cx="264.1" cy="282.2" r="2.05" fill="#fff" stroke="#0000ff" stroke-width="1.6"/>
<circle cx="268.0" cy="282.3" r="2.05" fill="#fff" stroke="#0000ff" stroke-width="1.6"/>
<circle cx="271.9" cy="283.5" r="2.05" fill="#fff" stroke="#0000ff" stroke-width="1.6"/>
<circle cx="275.8" cy="282.0" r="2.05" fill="#fff" stroke="#0000ff" stroke-width="1.6"/>
<circle cx="279.7" cy="282.5" r="2.05" fill="#fff" stroke="#0000ff" stroke-width="1.6"/>
<circle cx="283.6" cy="282.2" r="2.05" fill="#fff" stroke="#0000ff" stroke-width="1.6"/>
<circle cx="287.5" cy="285.1" r="2.05" fill="#fff" stroke="#0000ff" stroke-width="1.6"/>
<circle cx="291.4" cy="286.2" r="2.05" fill="#fff" stroke="#0000ff" stroke-width="1.6"/>
<circle cx="295.3" cy="284.8" r="2.05" fill="#fff" stroke="#0000ff" stroke-width="1.6"/>
<circle cx="299.2" cy="285.4" r="2.05" fill="#fff" stroke="#0000ff" stroke-width="1.6"/>
<circle cx="303.1" cy="286.6" r="2.05" fill="#fff" stroke="#0000ff" stroke-width="1.6"/>
<circle cx="309.6" cy="286.8" r="2.05" fill="#fff" stroke="#0000ff" stroke-width="1.6"/>
<circle cx="316.1" cy="285.3" r="2.05" fill="#fff" stroke="#0000ff" stroke-width="1.6"/>
<circle cx="322.6" cy="289.5" r="2.05" fill="#fff" stroke="#0000ff" stroke-width="1.6"/>
<circle cx="329.1" cy="286.0" r="2.05" fill="#fff" stroke="#0000ff" stroke-width="1.6"/>
<circle cx="335.6" cy="284.6" r="2.05" fill="#fff" stroke="#0000ff" stroke-width="1.6"/>
<circle cx="342.1" cy="286.4" r="2.05" fill="#fff" stroke="#0000ff" stroke-width="1.6"/>
<circle cx="348.6" cy="288.9" r="2.05" fill="#fff" stroke="#0000ff" stroke-width="1.6"/>
<circle cx="355.1" cy="290.5" r="2.05" fill="#fff" stroke="#0000ff" stroke-width="1.6"/>
<circle cx="361.6" cy="289.8" r="2.05" fill="#fff" stroke="#0000ff" stroke-width="1.6"/>
<circle cx="368.1" cy="290.9" r="2.05" fill="#fff" stroke="#0000ff" stroke-width="1.6"/>
<circle cx="374.6" cy="289.7" r="2.05" fill="#fff" stroke="#0000ff" stroke-width="1.6"/>
<circle cx="381.1" cy="290.1" r="2.05" fill="#fff" stroke="#0000ff" stroke-width="1.6"/>
<circle cx="387.6" cy="291.1" r="2.05" fill="#fff" stroke="#0000ff" stroke-width="1.6"/>
<circle cx="394.1" cy="287.7" r="2.05" fill="#fff" stroke="#0000ff" stroke-width="1.6"/>
<circle cx="400.6" cy="289.6" r="2.05" fill="#fff" stroke="#0000ff" stroke-width="1.6"/>
<circle cx="407.1" cy="291.2" r="2.05" fill="#fff" stroke="#0000ff" stroke-width="1.6"/>
<circle cx="413.6" cy="287.5" r="2.05" fill="#fff" stroke="#0000ff" stroke-width="1.6"/>
<circle cx="420.1" cy="289.2" r="2.05" fill="#fff" stroke="#0000ff" stroke-width="1.6"/>
<circle cx="426.6" cy="292.0" r="2.05" fill="#fff" stroke="#0000ff" stroke-width="1.6"/>
<circle cx="433.1" cy="293.0" r="2.05" fill="#fff" stroke="#0000ff" stroke-width="1.6"/>
</g>
<g>
<polyline points="53.9,288.6 60.7,286.9 67.5,287.2 74.3,283.3 81.1,286.7 87.9,288.8 94.7,286.8 101.5,284.9 108.3,282.8 115.1,282.1 121.9,276.5 125.6,272.6 129.3,265.0 133.0,246.9 136.7,233.4 140.4,206.5 144.1,180.8 147.8,160.0 151.5,147.7 155.2,131.8 158.9,118.3 162.6,108.3 166.3,111.9 170.0,115.8 173.7,126.3 177.4,132.1 181.1,144.4 184.8,161.7 188.5,172.5 192.2,191.2 195.9,201.7 199.6,218.3 203.3,230.1 207.0,238.9 210.7,248.0 214.4,254.4 218.1,259.7 221.8,263.7 225.5,269.9 229.7,275.1 233.9,277.2 238.1,280.6 242.3,283.2 246.5,285.2 250.7,284.1 254.9,285.2 259.1,285.3 263.3,286.4 270.1,287.4 276.9,287.8 283.7,288.2 290.5,287.8 297.3,289.1 304.1,289.2 310.9,288.9 317.7,289.0 324.5,289.6 331.3,288.0 338.1,287.4 344.9,287.8 351.7,288.7 358.5,289.1 365.3,291.5 372.1,291.9 378.9,289.0 385.7,291.0 392.5,291.2 399.3,289.0 406.1,289.7 412.9,290.1 419.7,289.0 426.5,292.5 433.3,292.3" fill="none" stroke="#ff00ff" stroke-width="2" stroke-linejoin="round"/>
<circle cx="53.9" cy="288.6" r="2.05" fill="#fff" stroke="#ff00ff" stroke-width="1.6"/>
<circle cx="60.7" cy="286.9" r="2.05" fill="#fff" stroke="#ff00ff" stroke-width="1.6"/>
<circle cx="67.5" cy="287.2" r="2.05" fill="#fff" stroke="#ff00ff" stroke-width="1.6"/>
<circle cx="74.3" cy="283.3" r="2.05" fill="#fff" stroke="#ff00ff" stroke-width="1.6"/>
<circle cx="81.1" cy="286.7" r="2.05" fill="#fff" stroke="#ff00ff" stroke-width="1.6"/>
<circle cx="87.9" cy="288.8" r="2.05" fill="#fff" stroke="#ff00ff" stroke-width="1.6"/>
<circle cx="94.7" cy="286.8" r="2.05" fill="#fff" stroke="#ff00ff" stroke-width="1.6"/>
<circle cx="101.5" cy="284.9" r="2.05" fill="#fff" stroke="#ff00ff" stroke-width="1.6"/>
<circle cx="108.3" cy="282.8" r="2.05" fill="#fff" stroke="#ff00ff" stroke-width="1.6"/>
<circle cx="115.1" cy="282.1" r="2.05" fill="#fff" stroke="#ff00ff" stroke-width="1.6"/>
<circle cx="121.9" cy="276.5" r="2.05" fill="#fff" stroke="#ff00ff" stroke-width="1.6"/>
<circle cx="125.6" cy="272.6" r="2.05" fill="#fff" stroke="#ff00ff" stroke-width="1.6"/>
<circle cx="129.3" cy="265.0" r="2.05" fill="#fff" stroke="#ff00ff" stroke-width="1.6"/>
<circle cx="133.0" cy="246.9" r="2.05" fill="#fff" stroke="#ff00ff" stroke-width="1.6"/>
<circle cx="136.7" cy="233.4" r="2.05" fill="#fff" stroke="#ff00ff" stroke-width="1.6"/>
<circle cx="140.4" cy="206.5" r="2.05" fill="#fff" stroke="#ff00ff" stroke-width="1.6"/>
<circle cx="144.1" cy="180.8" r="2.05" fill="#fff" stroke="#ff00ff" stroke-width="1.6"/>
<circle cx="147.8" cy="160.0" r="2.05" fill="#fff" stroke="#ff00ff" stroke-width="1.6"/>
<circle cx="151.5" cy="147.7" r="2.05" fill="#fff" stroke="#ff00ff" stroke-width="1.6"/>
<circle cx="155.2" cy="131.8" r="2.05" fill="#fff" stroke="#ff00ff" stroke-width="1.6"/>
<circle cx="158.9" cy="118.3" r="2.05" fill="#fff" stroke="#ff00ff" stroke-width="1.6"/>
<circle cx="162.6" cy="108.3" r="2.05" fill="#fff" stroke="#ff00ff" stroke-width="1.6"/>
<circle cx="166.3" cy="111.9" r="2.05" fill="#fff" stroke="#ff00ff" stroke-width="1.6"/>
<circle cx="170.0" cy="115.8" r="2.05" fill="#fff" stroke="#ff00ff" stroke-width="1.6"/>
<circle cx="173.7" cy="126.3" r="2.05" fill="#fff" stroke="#ff00ff" stroke-width="1.6"/>
<circle cx="177.4" cy="132.1" r="2.05" fill="#fff" stroke="#ff00ff" stroke-width="1.6"/>
<circle cx="181.1" cy="144.4" r="2.05" fill="#fff" stroke="#ff00ff" stroke-width="1.6"/>
<circle cx="184.8" cy="161.7" r="2.05" fill="#fff" stroke="#ff00ff" stroke-width="1.6"/>
<circle cx="188.5" cy="172.5" r="2.05" fill="#fff" stroke="#ff00ff" stroke-width="1.6"/>
<circle cx="192.2" cy="191.2" r="2.05" fill="#fff" stroke="#ff00ff" stroke-width="1.6"/>
<circle cx="195.9" cy="201.7" r="2.05" fill="#fff" stroke="#ff00ff" stroke-width="1.6"/>
<circle cx="199.6" cy="218.3" r="2.05" fill="#fff" stroke="#ff00ff" stroke-width="1.6"/>
<circle cx="203.3" cy="230.1" r="2.05" fill="#fff" stroke="#ff00ff" stroke-width="1.6"/>
<circle cx="207.0" cy="238.9" r="2.05" fill="#fff" stroke="#ff00ff" stroke-width="1.6"/>
<circle cx="210.7" cy="248.0" r="2.05" fill="#fff" stroke="#ff00ff" stroke-width="1.6"/>
<circle cx="214.4" cy="254.4" r="2.05" fill="#fff" stroke="#ff00ff" stroke-width="1.6"/>
<circle cx="218.1" cy="259.7" r="2.05" fill="#fff" stroke="#ff00ff" stroke-width="1.6"/>
<circle cx="221.8" cy="263.7" r="2.05" fill="#fff" stroke="#ff00ff" stroke-width="1.6"/>
<circle cx="225.5" cy="269.9" r="2.05" fill="#fff" stroke="#ff00ff" stroke-width="1.6"/>
<circle cx="229.7" cy="275.1" r="2.05" fill="#fff" stroke="#ff00ff" stroke-width="1.6"/>
<circle cx="233.9" cy="277.2" r="2.05" fill="#fff" stroke="#ff00ff" stroke-width="1.6"/>
<circle cx="238.1" cy="280.6" r="2.05" fill="#fff" stroke="#ff00ff" stroke-width="1.6"/>
<circle cx="242.3" cy="283.2" r="2.05" fill="#fff" stroke="#ff00ff" stroke-width="1.6"/>
<circle cx="246.5" cy="285.2" r="2.05" fill="#fff" stroke="#ff00ff" stroke-width="1.6"/>
<circle cx="250.7" cy="284.1" r="2.05" fill="#fff" stroke="#ff00ff" stroke-width="1.6"/>
<circle cx="254.9" cy="285.2" r="2.05" fill="#fff" stroke="#ff00ff" stroke-width="1.6"/>
<circle cx="259.1" cy="285.3" r="2.05" fill="#fff" stroke="#ff00ff" stroke-width="1.6"/>
<circle cx="263.3" cy="286.4" r="2.05" fill="#fff" stroke="#ff00ff" stroke-width="1.6"/>
<circle cx="270.1" cy="287.4" r="2.05" fill="#fff" stroke="#ff00ff" stroke-width="1.6"/>
<circle cx="276.9" cy="287.8" r="2.05" fill="#fff" stroke="#ff00ff" stroke-width="1.6"/>
<circle cx="283.7" cy="288.2" r="2.05" fill="#fff" stroke="#ff00ff" stroke-width="1.6"/>
<circle cx="290.5" cy="287.8" r="2.05" fill="#fff" stroke="#ff00ff" stroke-width="1.6"/>
<circle cx="297.3" cy="289.1" r="2.05" fill="#fff" stroke="#ff00ff" stroke-width="1.6"/>
<circle cx="304.1" cy="289.2" r="2.05" fill="#fff" stroke="#ff00ff" stroke-width="1.6"/>
<circle cx="310.9" cy="288.9" r="2.05" fill="#fff" stroke="#ff00ff" stroke-width="1.6"/>
<circle cx="317.7" cy="289.0" r="2.05" fill="#fff" stroke="#ff00ff" stroke-width="1.6"/>
<circle cx="324.5" cy="289.6" r="2.05" fill="#fff" stroke="#ff00ff" stroke-width="1.6"/>
<circle cx="331.3" cy="288.0" r="2.05" fill="#fff" stroke="#ff00ff" stroke-width="1.6"/>
<circle cx="338.1" cy="287.4" r="2.05" fill="#fff" stroke="#ff00ff" stroke-width="1.6"/>
<circle cx="344.9" cy="287.8" r="2.05" fill="#fff" stroke="#ff00ff" stroke-width="1.6"/>
<circle cx="351.7" cy="288.7" r="2.05" fill="#fff" stroke="#ff00ff" stroke-width="1.6"/>
<circle cx="358.5" cy="289.1" r="2.05" fill="#fff" stroke="#ff00ff" stroke-width="1.6"/>
<circle cx="365.3" cy="291.5" r="2.05" fill="#fff" stroke="#ff00ff" stroke-width="1.6"/>
<circle cx="372.1" cy="291.9" r="2.05" fill="#fff" stroke="#ff00ff" stroke-width="1.6"/>
<circle cx="378.9" cy="289.0" r="2.05" fill="#fff" stroke="#ff00ff" stroke-width="1.6"/>
<circle cx="385.7" cy="291.0" r="2.05" fill="#fff" stroke="#ff00ff" stroke-width="1.6"/>
<circle cx="392.5" cy="291.2" r="2.05" fill="#fff" stroke="#ff00ff" stroke-width="1.6"/>
<circle cx="399.3" cy="289.0" r="2.05" fill="#fff" stroke="#ff00ff" stroke-width="1.6"/>
<circle cx="406.1" cy="289.7" r="2.05" fill="#fff" stroke="#ff00ff" stroke-width="1.6"/>
<circle cx="412.9" cy="290.1" r="2.05" fill="#fff" stroke="#ff00ff" stroke-width="1.6"/>
<circle cx="419.7" cy="289.0" r="2.05" fill="#fff" stroke="#ff00ff" stroke-width="1.6"/>
<circle cx="426.5" cy="292.5" r="2.05" fill="#fff" stroke="#ff00ff" stroke-width="1.6"/>
<circle cx="433.3" cy="292.3" r="2.05" fill="#fff" stroke="#ff00ff" stroke-width="1.6"/>
</g>
<g>
<polyline points="52.0,288.7 58.0,289.3 64.0,287.7 70.0,285.4 76.0,284.1 82.0,285.3 88.0,288.5 94.0,286.8 100.0,285.9 106.0,283.6 112.0,280.8 118.0,282.5 124.0,281.3 130.0,274.6 136.0,258.5 142.0,237.7 148.0,217.6 154.0,208.6 160.0,197.6 166.0,194.5 172.0,200.0 178.0,204.5 184.0,219.6 190.0,233.5 196.0,243.3 202.0,255.5 208.0,264.4 214.0,271.0 220.0,274.8 226.0,278.5 232.0,284.6 238.0,284.7 244.0,283.8 250.0,284.8 256.0,286.8 262.0,287.4 268.0,286.8 274.0,288.8 280.0,288.1 286.0,287.4 292.0,288.1 298.0,288.4 304.0,287.4 310.0,288.2 316.0,287.4 322.0,288.7 328.0,289.6 334.0,285.6 340.0,287.5 346.0,287.0 352.0,288.5 358.0,288.7 364.0,289.4 370.0,291.0 376.0,287.6 382.0,291.2 388.0,291.0 394.0,289.9 400.0,287.6 406.0,291.7 412.0,290.4 418.0,289.0 424.0,290.8 430.0,293.9" fill="none" stroke="#ff0000" stroke-width="1.2" stroke-linejoin="round" stroke-opacity="0.55"/>
<rect x="50.3" y="287.0" width="3.4" height="3.4" fill="#fff" stroke="#ff0000" stroke-width="1.2"/>
<rect x="56.3" y="287.6" width="3.4" height="3.4" fill="#fff" stroke="#ff0000" stroke-width="1.2"/>
<rect x="62.3" y="286.0" width="3.4" height="3.4" fill="#fff" stroke="#ff0000" stroke-width="1.2"/>
<rect x="68.3" y="283.7" width="3.4" height="3.4" fill="#fff" stroke="#ff0000" stroke-width="1.2"/>
<rect x="74.3" y="282.4" width="3.4" height="3.4" fill="#fff" stroke="#ff0000" stroke-width="1.2"/>
<rect x="80.3" y="283.6" width="3.4" height="3.4" fill="#fff" stroke="#ff0000" stroke-width="1.2"/>
<rect x="86.3" y="286.8" width="3.4" height="3.4" fill="#fff" stroke="#ff0000" stroke-width="1.2"/>
<rect x="92.3" y="285.1" width="3.4" height="3.4" fill="#fff" stroke="#ff0000" stroke-width="1.2"/>
<rect x="98.3" y="284.2" width="3.4" height="3.4" fill="#fff" stroke="#ff0000" stroke-width="1.2"/>
<rect x="104.3" y="281.9" width="3.4" height="3.4" fill="#fff" stroke="#ff0000" stroke-width="1.2"/>
<rect x="110.3" y="279.1" width="3.4" height="3.4" fill="#fff" stroke="#ff0000" stroke-width="1.2"/>
<rect x="116.3" y="280.8" width="3.4" height="3.4" fill="#fff" stroke="#ff0000" stroke-width="1.2"/>
<rect x="122.3" y="279.6" width="3.4" height="3.4" fill="#fff" stroke="#ff0000" stroke-width="1.2"/>
<rect x="128.3" y="272.9" width="3.4" height="3.4" fill="#fff" stroke="#ff0000" stroke-width="1.2"/>
<rect x="134.3" y="256.8" width="3.4" height="3.4" fill="#fff" stroke="#ff0000" stroke-width="1.2"/>
<rect x="140.3" y="236.0" width="3.4" height="3.4" fill="#fff" stroke="#ff0000" stroke-width="1.2"/>
<rect x="146.3" y="215.9" width="3.4" height="3.4" fill="#fff" stroke="#ff0000" stroke-width="1.2"/>
<rect x="152.3" y="206.9" width="3.4" height="3.4" fill="#fff" stroke="#ff0000" stroke-width="1.2"/>
<rect x="158.3" y="195.9" width="3.4" height="3.4" fill="#fff" stroke="#ff0000" stroke-width="1.2"/>
<rect x="164.3" y="192.8" width="3.4" height="3.4" fill="#fff" stroke="#ff0000" stroke-width="1.2"/>
<rect x="170.3" y="198.3" width="3.4" height="3.4" fill="#fff" stroke="#ff0000" stroke-width="1.2"/>
<rect x="176.3" y="202.8" width="3.4" height="3.4" fill="#fff" stroke="#ff0000" stroke-width="1.2"/>
<rect x="182.3" y="217.9" width="3.4" height="3.4" fill="#fff" stroke="#ff0000" stroke-width="1.2"/>
<rect x="188.3" y="231.8" width="3.4" height="3.4" fill="#fff" stroke="#ff0000" stroke-width="1.2"/>
<rect x="194.3" y="241.6" width="3.4" height="3.4" fill="#fff" stroke="#ff0000" stroke-width="1.2"/>
<rect x="200.3" y="253.8" width="3.4" height="3.4" fill="#fff" stroke="#ff0000" stroke-width="1.2"/>
<rect x="206.3" y="262.7" width="3.4" height="3.4" fill="#fff" stroke="#ff0000" stroke-width="1.2"/>
<rect x="212.3" y="269.3" width="3.4" height="3.4" fill="#fff" stroke="#ff0000" stroke-width="1.2"/>
<rect x="218.3" y="273.1" width="3.4" height="3.4" fill="#fff" stroke="#ff0000" stroke-width="1.2"/>
<rect x="224.3" y="276.8" width="3.4" height="3.4" fill="#fff" stroke="#ff0000" stroke-width="1.2"/>
<rect x="230.3" y="282.9" width="3.4" height="3.4" fill="#fff" stroke="#ff0000" stroke-width="1.2"/>
<rect x="236.3" y="283.0" width="3.4" height="3.4" fill="#fff" stroke="#ff0000" stroke-width="1.2"/>
<rect x="242.3" y="282.1" width="3.4" height="3.4" fill="#fff" stroke="#ff0000" stroke-width="1.2"/>
<rect x="248.3" y="283.1" width="3.4" height="3.4" fill="#fff" stroke="#ff0000" stroke-width="1.2"/>
<rect x="254.3" y="285.1" width="3.4" height="3.4" fill="#fff" stroke="#ff0000" stroke-width="1.2"/>
<rect x="260.3" y="285.7" width="3.4" height="3.4" fill="#fff" stroke="#ff0000" stroke-width="1.2"/>
<rect x="266.3" y="285.1" width="3.4" height="3.4" fill="#fff" stroke="#ff0000" stroke-width="1.2"/>
<rect x="272.3" y="287.1" width="3.4" height="3.4" fill="#fff" stroke="#ff0000" stroke-width="1.2"/>
<rect x="278.3" y="286.4" width="3.4" height="3.4" fill="#fff" stroke="#ff0000" stroke-width="1.2"/>
<rect x="284.3" y="285.7" width="3.4" height="3.4" fill="#fff" stroke="#ff0000" stroke-width="1.2"/>
<rect x="290.3" y="286.4" width="3.4" height="3.4" fill="#fff" stroke="#ff0000" stroke-width="1.2"/>
<rect x="296.3" y="286.7" width="3.4" height="3.4" fill="#fff" stroke="#ff0000" stroke-width="1.2"/>
<rect x="302.3" y="285.7" width="3.4" height="3.4" fill="#fff" stroke="#ff0000" stroke-width="1.2"/>
<rect x="308.3" y="286.5" width="3.4" height="3.4" fill="#fff" stroke="#ff0000" stroke-width="1.2"/>
<rect x="314.3" y="285.7" width="3.4" height="3.4" fill="#fff" stroke="#ff0000" stroke-width="1.2"/>
<rect x="320.3" y="287.0" width="3.4" height="3.4" fill="#fff" stroke="#ff0000" stroke-width="1.2"/>
<rect x="326.3" y="287.9" width="3.4" height="3.4" fill="#fff" stroke="#ff0000" stroke-width="1.2"/>
<rect x="332.3" y="283.9" width="3.4" height="3.4" fill="#fff" stroke="#ff0000" stroke-width="1.2"/>
<rect x="338.3" y="285.8" width="3.4" height="3.4" fill="#fff" stroke="#ff0000" stroke-width="1.2"/>
<rect x="344.3" y="285.3" width="3.4" height="3.4" fill="#fff" stroke="#ff0000" stroke-width="1.2"/>
<rect x="350.3" y="286.8" width="3.4" height="3.4" fill="#fff" stroke="#ff0000" stroke-width="1.2"/>
<rect x="356.3" y="287.0" width="3.4" height="3.4" fill="#fff" stroke="#ff0000" stroke-width="1.2"/>
<rect x="362.3" y="287.7" width="3.4" height="3.4" fill="#fff" stroke="#ff0000" stroke-width="1.2"/>
<rect x="368.3" y="289.3" width="3.4" height="3.4" fill="#fff" stroke="#ff0000" stroke-width="1.2"/>
<rect x="374.3" y="285.9" width="3.4" height="3.4" fill="#fff" stroke="#ff0000" stroke-width="1.2"/>
<rect x="380.3" y="289.5" width="3.4" height="3.4" fill="#fff" stroke="#ff0000" stroke-width="1.2"/>
<rect x="386.3" y="289.3" width="3.4" height="3.4" fill="#fff" stroke="#ff0000" stroke-width="1.2"/>
<rect x="392.3" y="288.2" width="3.4" height="3.4" fill="#fff" stroke="#ff0000" stroke-width="1.2"/>
<rect x="398.3" y="285.9" width="3.4" height="3.4" fill="#fff" stroke="#ff0000" stroke-width="1.2"/>
<rect x="404.3" y="290.0" width="3.4" height="3.4" fill="#fff" stroke="#ff0000" stroke-width="1.2"/>
<rect x="410.3" y="288.7" width="3.4" height="3.4" fill="#fff" stroke="#ff0000" stroke-width="1.2"/>
<rect x="416.3" y="287.3" width="3.4" height="3.4" fill="#fff" stroke="#ff0000" stroke-width="1.2"/>
<rect x="422.3" y="289.1" width="3.4" height="3.4" fill="#fff" stroke="#ff0000" stroke-width="1.2"/>
<rect x="428.3" y="292.2" width="3.4" height="3.4" fill="#fff" stroke="#ff0000" stroke-width="1.2"/>
</g>
<g>
<polyline points="56.0,288.4 62.0,288.8 68.0,287.8 74.0,284.7 80.0,283.2 86.0,287.4 92.0,287.0 98.0,285.2 104.0,282.9 110.0,282.6 116.0,282.6 122.0,282.6 128.0,279.1 134.0,272.9 140.0,264.9 146.0,254.8 152.0,249.5 158.0,244.6 164.0,238.9 170.0,245.9 176.0,247.1 182.0,252.3 188.0,260.9 194.0,264.2 200.0,270.0 206.0,275.1 212.0,276.9 218.0,280.0 224.0,281.9 230.0,284.2 236.0,284.6 242.0,284.8 248.0,285.3 254.0,284.7 260.0,287.9 266.0,286.3 272.0,287.8 278.0,290.1 284.0,286.4 290.0,287.7 296.0,288.6 302.0,289.5 308.0,287.9 314.0,289.3 320.0,289.5 326.0,289.7 332.0,286.3 338.0,287.4 344.0,289.2 350.0,288.9 356.0,288.3 362.0,289.5 368.0,288.9 374.0,290.4 380.0,291.0 386.0,291.9 392.0,287.1 398.0,287.7 404.0,290.4 410.0,290.6 416.0,289.6 422.0,288.6 428.0,291.6 434.0,293.0" fill="none" stroke="#008000" stroke-width="1.2" stroke-linejoin="round" stroke-opacity="0.55"/>
<rect x="54.3" y="286.7" width="3.4" height="3.4" fill="#fff" stroke="#008000" stroke-width="1.2"/>
<rect x="60.3" y="287.1" width="3.4" height="3.4" fill="#fff" stroke="#008000" stroke-width="1.2"/>
<rect x="66.3" y="286.1" width="3.4" height="3.4" fill="#fff" stroke="#008000" stroke-width="1.2"/>
<rect x="72.3" y="283.0" width="3.4" height="3.4" fill="#fff" stroke="#008000" stroke-width="1.2"/>
<rect x="78.3" y="281.5" width="3.4" height="3.4" fill="#fff" stroke="#008000" stroke-width="1.2"/>
<rect x="84.3" y="285.7" width="3.4" height="3.4" fill="#fff" stroke="#008000" stroke-width="1.2"/>
<rect x="90.3" y="285.3" width="3.4" height="3.4" fill="#fff" stroke="#008000" stroke-width="1.2"/>
<rect x="96.3" y="283.5" width="3.4" height="3.4" fill="#fff" stroke="#008000" stroke-width="1.2"/>
<rect x="102.3" y="281.2" width="3.4" height="3.4" fill="#fff" stroke="#008000" stroke-width="1.2"/>
<rect x="108.3" y="280.9" width="3.4" height="3.4" fill="#fff" stroke="#008000" stroke-width="1.2"/>
<rect x="114.3" y="280.9" width="3.4" height="3.4" fill="#fff" stroke="#008000" stroke-width="1.2"/>
<rect x="120.3" y="280.9" width="3.4" height="3.4" fill="#fff" stroke="#008000" stroke-width="1.2"/>
<rect x="126.3" y="277.4" width="3.4" height="3.4" fill="#fff" stroke="#008000" stroke-width="1.2"/>
<rect x="132.3" y="271.2" width="3.4" height="3.4" fill="#fff" stroke="#008000" stroke-width="1.2"/>
<rect x="138.3" y="263.2" width="3.4" height="3.4" fill="#fff" stroke="#008000" stroke-width="1.2"/>
<rect x="144.3" y="253.1" width="3.4" height="3.4" fill="#fff" stroke="#008000" stroke-width="1.2"/>
<rect x="150.3" y="247.8" width="3.4" height="3.4" fill="#fff" stroke="#008000" stroke-width="1.2"/>
<rect x="156.3" y="242.9" width="3.4" height="3.4" fill="#fff" stroke="#008000" stroke-width="1.2"/>
<rect x="162.3" y="237.2" width="3.4" height="3.4" fill="#fff" stroke="#008000" stroke-width="1.2"/>
<rect x="168.3" y="244.2" width="3.4" height="3.4" fill="#fff" stroke="#008000" stroke-width="1.2"/>
<rect x="174.3" y="245.4" width="3.4" height="3.4" fill="#fff" stroke="#008000" stroke-width="1.2"/>
<rect x="180.3" y="250.6" width="3.4" height="3.4" fill="#fff" stroke="#008000" stroke-width="1.2"/>
<rect x="186.3" y="259.2" width="3.4" height="3.4" fill="#fff" stroke="#008000" stroke-width="1.2"/>
<rect x="192.3" y="262.5" width="3.4" height="3.4" fill="#fff" stroke="#008000" stroke-width="1.2"/>
<rect x="198.3" y="268.3" width="3.4" height="3.4" fill="#fff" stroke="#008000" stroke-width="1.2"/>
<rect x="204.3" y="273.4" width="3.4" height="3.4" fill="#fff" stroke="#008000" stroke-width="1.2"/>
<rect x="210.3" y="275.2" width="3.4" height="3.4" fill="#fff" stroke="#008000" stroke-width="1.2"/>
<rect x="216.3" y="278.3" width="3.4" height="3.4" fill="#fff" stroke="#008000" stroke-width="1.2"/>
<rect x="222.3" y="280.2" width="3.4" height="3.4" fill="#fff" stroke="#008000" stroke-width="1.2"/>
<rect x="228.3" y="282.5" width="3.4" height="3.4" fill="#fff" stroke="#008000" stroke-width="1.2"/>
<rect x="234.3" y="282.9" width="3.4" height="3.4" fill="#fff" stroke="#008000" stroke-width="1.2"/>
<rect x="240.3" y="283.1" width="3.4" height="3.4" fill="#fff" stroke="#008000" stroke-width="1.2"/>
<rect x="246.3" y="283.6" width="3.4" height="3.4" fill="#fff" stroke="#008000" stroke-width="1.2"/>
<rect x="252.3" y="283.0" width="3.4" height="3.4" fill="#fff" stroke="#008000" stroke-width="1.2"/>
<rect x="258.3" y="286.2" width="3.4" height="3.4" fill="#fff" stroke="#008000" stroke-width="1.2"/>
<rect x="264.3" y="284.6" width="3.4" height="3.4" fill="#fff" stroke="#008000" stroke-width="1.2"/>
<rect x="270.3" y="286.1" width="3.4" height="3.4" fill="#fff" stroke="#008000" stroke-width="1.2"/>
<rect x="276.3" y="288.4" width="3.4" height="3.4" fill="#fff" stroke="#008000" stroke-width="1.2"/>
<rect x="282.3" y="284.7" width="3.4" height="3.4" fill="#fff" stroke="#008000" stroke-width="1.2"/>
<rect x="288.3" y="286.0" width="3.4" height="3.4" fill="#fff" stroke="#008000" stroke-width="1.2"/>
<rect x="294.3" y="286.9" width="3.4" height="3.4" fill="#fff" stroke="#008000" stroke-width="1.2"/>
<rect x="300.3" y="287.8" width="3.4" height="3.4" fill="#fff" stroke="#008000" stroke-width="1.2"/>
<rect x="306.3" y="286.2" width="3.4" height="3.4" fill="#fff" stroke="#008000" stroke-width="1.2"/>
<rect x="312.3" y="287.6" width="3.4" height="3.4" fill="#fff" stroke="#008000" stroke-width="1.2"/>
<rect x="318.3" y="287.8" width="3.4" height="3.4" fill="#fff" stroke="#008000" stroke-width="1.2"/>
<rect x="324.3" y="288.0" width="3.4" height="3.4" fill="#fff" stroke="#008000" stroke-width="1.2"/>
<rect x="330.3" y="284.6" width="3.4" height="3.4" fill="#fff" stroke="#008000" stroke-width="1.2"/>
<rect x="336.3" y="285.7" width="3.4" height="3.4" fill="#fff" stroke="#008000" stroke-width="1.2"/>
<rect x="342.3" y="287.5" width="3.4" height="3.4" fill="#fff" stroke="#008000" stroke-width="1.2"/>
<rect x="348.3" y="287.2" width="3.4" height="3.4" fill="#fff" stroke="#008000" stroke-width="1.2"/>
<rect x="354.3" y="286.6" width="3.4" height="3.4" fill="#fff" stroke="#008000" stroke-width="1.2"/>
<rect x="360.3" y="287.8" width="3.4" height="3.4" fill="#fff" stroke="#008000" stroke-width="1.2"/>
<rect x="366.3" y="287.2" width="3.4" height="3.4" fill="#fff" stroke="#008000" stroke-width="1.2"/>
<rect x="372.3" y="288.7" width="3.4" height="3.4" fill="#fff" stroke="#008000" stroke-width="1.2"/>
<rect x="378.3" y="289.3" width="3.4" height="3.4" fill="#fff" stroke="#008000" stroke-width="1.2"/>
<rect x="384.3" y="290.2" width="3.4" height="3.4" fill="#fff" stroke="#008000" stroke-width="1.2"/>
<rect x="390.3" y="285.4" width="3.4" height="3.4" fill="#fff" stroke="#008000" stroke-width="1.2"/>
<rect x="396.3" y="286.0" width="3.4" height="3.4" fill="#fff" stroke="#008000" stroke-width="1.2"/>
<rect x="402.3" y="288.7" width="3.4" height="3.4" fill="#fff" stroke="#008000" stroke-width="1.2"/>
<rect x="408.3" y="288.9" width="3.4" height="3.4" fill="#fff" stroke="#008000" stroke-width="1.2"/>
<rect x="414.3" y="287.9" width="3.4" height="3.4" fill="#fff" stroke="#008000" stroke-width="1.2"/>
<rect x="420.3" y="286.9" width="3.4" height="3.4" fill="#fff" stroke="#008000" stroke-width="1.2"/>
<rect x="426.3" y="289.9" width="3.4" height="3.4" fill="#fff" stroke="#008000" stroke-width="1.2"/>
<rect x="432.3" y="291.3" width="3.4" height="3.4" fill="#fff" stroke="#008000" stroke-width="1.2"/>
</g>
<g>
<polyline points="52.7,289.3 58.7,289.6 64.7,285.6 70.7,287.2 76.7,282.9 82.7,286.7 88.7,287.3 94.7,286.1 100.7,284.9 106.7,283.6 112.7,282.1 118.7,284.6 124.7,281.3 130.7,279.2 136.7,275.0 142.7,264.2 148.7,259.1 154.7,254.1 160.7,253.5 166.7,253.5 172.7,258.6 178.7,258.8 184.7,264.7 190.7,271.2 196.7,272.5 202.7,278.9 208.7,281.1 214.7,283.4 220.7,283.1 226.7,281.4 232.7,283.6 238.7,283.6 244.7,285.1 250.7,285.6 256.7,287.2 262.7,287.5 268.7,288.7 274.7,288.4 280.7,290.0 286.7,288.1 292.7,289.6 298.7,290.0 304.7,289.1 310.7,288.9 316.7,290.9 322.7,290.5 328.7,289.9 334.7,286.9 340.7,286.7 346.7,288.3 352.7,288.1 358.7,289.4 364.7,291.5 370.7,291.2 376.7,289.3 382.7,290.3 388.7,290.5 394.7,287.3 400.7,289.1 406.7,290.9 412.7,290.0 418.7,288.5 424.7,292.4 430.7,293.8" fill="none" stroke="#0000ff" stroke-width="1.2" stroke-linejoin="round" stroke-opacity="0.55"/>
<rect x="51.0" y="287.6" width="3.4" height="3.4" fill="#fff" stroke="#0000ff" stroke-width="1.2"/>
<rect x="57.0" y="287.9" width="3.4" height="3.4" fill="#fff" stroke="#0000ff" stroke-width="1.2"/>
<rect x="63.0" y="283.9" width="3.4" height="3.4" fill="#fff" stroke="#0000ff" stroke-width="1.2"/>
<rect x="69.0" y="285.5" width="3.4" height="3.4" fill="#fff" stroke="#0000ff" stroke-width="1.2"/>
<rect x="75.0" y="281.2" width="3.4" height="3.4" fill="#fff" stroke="#0000ff" stroke-width="1.2"/>
<rect x="81.0" y="285.0" width="3.4" height="3.4" fill="#fff" stroke="#0000ff" stroke-width="1.2"/>
<rect x="87.0" y="285.6" width="3.4" height="3.4" fill="#fff" stroke="#0000ff" stroke-width="1.2"/>
<rect x="93.0" y="284.4" width="3.4" height="3.4" fill="#fff" stroke="#0000ff" stroke-width="1.2"/>
<rect x="99.0" y="283.2" width="3.4" height="3.4" fill="#fff" stroke="#0000ff" stroke-width="1.2"/>
<rect x="105.0" y="281.9" width="3.4" height="3.4" fill="#fff" stroke="#0000ff" stroke-width="1.2"/>
<rect x="111.0" y="280.4" width="3.4" height="3.4" fill="#fff" stroke="#0000ff" stroke-width="1.2"/>
<rect x="117.0" y="282.9" width="3.4" height="3.4" fill="#fff" stroke="#0000ff" stroke-width="1.2"/>
<rect x="123.0" y="279.6" width="3.4" height="3.4" fill="#fff" stroke="#0000ff" stroke-width="1.2"/>
<rect x="129.0" y="277.5" width="3.4" height="3.4" fill="#fff" stroke="#0000ff" stroke-width="1.2"/>
<rect x="135.0" y="273.3" width="3.4" height="3.4" fill="#fff" stroke="#0000ff" stroke-width="1.2"/>
<rect x="141.0" y="262.5" width="3.4" height="3.4" fill="#fff" stroke="#0000ff" stroke-width="1.2"/>
<rect x="147.0" y="257.4" width="3.4" height="3.4" fill="#fff" stroke="#0000ff" stroke-width="1.2"/>
<rect x="153.0" y="252.4" width="3.4" height="3.4" fill="#fff" stroke="#0000ff" stroke-width="1.2"/>
<rect x="159.0" y="251.8" width="3.4" height="3.4" fill="#fff" stroke="#0000ff" stroke-width="1.2"/>
<rect x="165.0" y="251.8" width="3.4" height="3.4" fill="#fff" stroke="#0000ff" stroke-width="1.2"/>
<rect x="171.0" y="256.9" width="3.4" height="3.4" fill="#fff" stroke="#0000ff" stroke-width="1.2"/>
<rect x="177.0" y="257.1" width="3.4" height="3.4" fill="#fff" stroke="#0000ff" stroke-width="1.2"/>
<rect x="183.0" y="263.0" width="3.4" height="3.4" fill="#fff" stroke="#0000ff" stroke-width="1.2"/>
<rect x="189.0" y="269.5" width="3.4" height="3.4" fill="#fff" stroke="#0000ff" stroke-width="1.2"/>
<rect x="195.0" y="270.8" width="3.4" height="3.4" fill="#fff" stroke="#0000ff" stroke-width="1.2"/>
<rect x="201.0" y="277.2" width="3.4" height="3.4" fill="#fff" stroke="#0000ff" stroke-width="1.2"/>
<rect x="207.0" y="279.4" width="3.4" height="3.4" fill="#fff" stroke="#0000ff" stroke-width="1.2"/>
<rect x="213.0" y="281.7" width="3.4" height="3.4" fill="#fff" stroke="#0000ff" stroke-width="1.2"/>
<rect x="219.0" y="281.4" width="3.4" height="3.4" fill="#fff" stroke="#0000ff" stroke-width="1.2"/>
<rect x="225.0" y="279.7" width="3.4" height="3.4" fill="#fff" stroke="#0000ff" stroke-width="1.2"/>
<rect x="231.0" y="281.9" width="3.4" height="3.4" fill="#fff" stroke="#0000ff" stroke-width="1.2"/>
<rect x="237.0" y="281.9" width="3.4" height="3.4" fill="#fff" stroke="#0000ff" stroke-width="1.2"/>
<rect x="243.0" y="283.4" width="3.4" height="3.4" fill="#fff" stroke="#0000ff" stroke-width="1.2"/>
<rect x="249.0" y="283.9" width="3.4" height="3.4" fill="#fff" stroke="#0000ff" stroke-width="1.2"/>
<rect x="255.0" y="285.5" width="3.4" height="3.4" fill="#fff" stroke="#0000ff" stroke-width="1.2"/>
<rect x="261.0" y="285.8" width="3.4" height="3.4" fill="#fff" stroke="#0000ff" stroke-width="1.2"/>
<rect x="267.0" y="287.0" width="3.4" height="3.4" fill="#fff" stroke="#0000ff" stroke-width="1.2"/>
<rect x="273.0" y="286.7" width="3.4" height="3.4" fill="#fff" stroke="#0000ff" stroke-width="1.2"/>
<rect x="279.0" y="288.3" width="3.4" height="3.4" fill="#fff" stroke="#0000ff" stroke-width="1.2"/>
<rect x="285.0" y="286.4" width="3.4" height="3.4" fill="#fff" stroke="#0000ff" stroke-width="1.2"/>
<rect x="291.0" y="287.9" width="3.4" height="3.4" fill="#fff" stroke="#0000ff" stroke-width="1.2"/>
<rect x="297.0" y="288.3" width="3.4" height="3.4" fill="#fff" stroke="#0000ff" stroke-width="1.2"/>
<rect x="303.0" y="287.4" width="3.4" height="3.4" fill="#fff" stroke="#0000ff" stroke-width="1.2"/>
<rect x="309.0" y="287.2" width="3.4" height="3.4" fill="#fff" stroke="#0000ff" stroke-width="1.2"/>
<rect x="315.0" y="289.2" width="3.4" height="3.4" fill="#fff" stroke="#0000ff" stroke-width="1.2"/>
<rect x="321.0" y="288.8" width="3.4" height="3.4" fill="#fff" stroke="#0000ff" stroke-width="1.2"/>
<rect x="327.0" y="288.2" width="3.4" height="3.4" fill="#fff" stroke="#0000ff" stroke-width="1.2"/>
<rect x="333.0" y="285.2" width="3.4" height="3.4" fill="#fff" stroke="#0000ff" stroke-width="1.2"/>
<rect x="339.0" y="285.0" width="3.4" height="3.4" fill="#fff" stroke="#0000ff" stroke-width="1.2"/>
<rect x="345.0" y="286.6" width="3.4" height="3.4" fill="#fff" stroke="#0000ff" stroke-width="1.2"/>
<rect x="351.0" y="286.4" width="3.4" height="3.4" fill="#fff" stroke="#0000ff" stroke-width="1.2"/>
<rect x="357.0" y="287.7" width="3.4" height="3.4" fill="#fff" stroke="#0000ff" stroke-width="1.2"/>
<rect x="363.0" y="289.8" width="3.4" height="3.4" fill="#fff" stroke="#0000ff" stroke-width="1.2"/>
<rect x="369.0" y="289.5" width="3.4" height="3.4" fill="#fff" stroke="#0000ff" stroke-width="1.2"/>
<rect x="375.0" y="287.6" width="3.4" height="3.4" fill="#fff" stroke="#0000ff" stroke-width="1.2"/>
<rect x="381.0" y="288.6" width="3.4" height="3.4" fill="#fff" stroke="#0000ff" stroke-width="1.2"/>
<rect x="387.0" y="288.8" width="3.4" height="3.4" fill="#fff" stroke="#0000ff" stroke-width="1.2"/>
<rect x="393.0" y="285.6" width="3.4" height="3.4" fill="#fff" stroke="#0000ff" stroke-width="1.2"/>
<rect x="399.0" y="287.4" width="3.4" height="3.4" fill="#fff" stroke="#0000ff" stroke-width="1.2"/>
<rect x="405.0" y="289.2" width="3.4" height="3.4" fill="#fff" stroke="#0000ff" stroke-width="1.2"/>
<rect x="411.0" y="288.3" width="3.4" height="3.4" fill="#fff" stroke="#0000ff" stroke-width="1.2"/>
<rect x="417.0" y="286.8" width="3.4" height="3.4" fill="#fff" stroke="#0000ff" stroke-width="1.2"/>
<rect x="423.0" y="290.7" width="3.4" height="3.4" fill="#fff" stroke="#0000ff" stroke-width="1.2"/>
<rect x="429.0" y="292.1" width="3.4" height="3.4" fill="#fff" stroke="#0000ff" stroke-width="1.2"/>
</g>
<g>
<polyline points="55.1,287.6 61.1,286.7 67.1,285.5 73.1,284.2 79.1,283.3 85.1,286.3 91.1,288.8 97.1,287.4 103.1,283.9 109.1,281.0 115.1,282.7 121.1,285.9 127.1,285.4 133.1,281.0 139.1,274.2 145.1,267.5 151.1,262.7 157.1,258.3 163.1,254.9 169.1,259.7 175.1,260.4 181.1,263.5 187.1,270.9 193.1,274.9 199.1,275.2 205.1,279.4 211.1,281.5 217.1,283.0 223.1,283.4 229.1,285.6 235.1,287.2 241.1,288.1 247.1,287.3 253.1,289.8 259.1,289.5 265.1,289.4 271.1,289.8 277.1,292.8 283.1,291.2 289.1,290.2 295.1,290.1 301.1,292.7 307.1,290.5 313.1,292.1 319.1,292.1 325.1,288.4 331.1,290.7 337.1,286.5 343.1,286.7 349.1,287.9 355.1,289.3 361.1,290.2 367.1,291.5 373.1,290.0 379.1,290.3 385.1,292.8 391.1,291.8 397.1,288.9 403.1,292.0 409.1,292.9 415.1,289.6 421.1,290.6 427.1,292.5 433.1,293.0" fill="none" stroke="#ff00ff" stroke-width="1.2" stroke-linejoin="round" stroke-opacity="0.55"/>
<rect x="53.4" y="285.9" width="3.4" height="3.4" fill="#fff" stroke="#ff00ff" stroke-width="1.2"/>
<rect x="59.4" y="285.0" width="3.4" height="3.4" fill="#fff" stroke="#ff00ff" stroke-width="1.2"/>
<rect x="65.4" y="283.8" width="3.4" height="3.4" fill="#fff" stroke="#ff00ff" stroke-width="1.2"/>
<rect x="71.4" y="282.5" width="3.4" height="3.4" fill="#fff" stroke="#ff00ff" stroke-width="1.2"/>
<rect x="77.4" y="281.6" width="3.4" height="3.4" fill="#fff" stroke="#ff00ff" stroke-width="1.2"/>
<rect x="83.4" y="284.6" width="3.4" height="3.4" fill="#fff" stroke="#ff00ff" stroke-width="1.2"/>
<rect x="89.4" y="287.1" width="3.4" height="3.4" fill="#fff" stroke="#ff00ff" stroke-width="1.2"/>
<rect x="95.4" y="285.7" width="3.4" height="3.4" fill="#fff" stroke="#ff00ff" stroke-width="1.2"/>
<rect x="101.4" y="282.2" width="3.4" height="3.4" fill="#fff" stroke="#ff00ff" stroke-width="1.2"/>
<rect x="107.4" y="279.3" width="3.4" height="3.4" fill="#fff" stroke="#ff00ff" stroke-width="1.2"/>
<rect x="113.4" y="281.0" width="3.4" height="3.4" fill="#fff" stroke="#ff00ff" stroke-width="1.2"/>
<rect x="119.4" y="284.2" width="3.4" height="3.4" fill="#fff" stroke="#ff00ff" stroke-width="1.2"/>
<rect x="125.4" y="283.7" width="3.4" height="3.4" fill="#fff" stroke="#ff00ff" stroke-width="1.2"/>
<rect x="131.4" y="279.3" width="3.4" height="3.4" fill="#fff" stroke="#ff00ff" stroke-width="1.2"/>
<rect x="137.4" y="272.5" width="3.4" height="3.4" fill="#fff" stroke="#ff00ff" stroke-width="1.2"/>
<rect x="143.4" y="265.8" width="3.4" height="3.4" fill="#fff" stroke="#ff00ff" stroke-width="1.2"/>
<rect x="149.4" y="261.0" width="3.4" height="3.4" fill="#fff" stroke="#ff00ff" stroke-width="1.2"/>
<rect x="155.4" y="256.6" width="3.4" height="3.4" fill="#fff" stroke="#ff00ff" stroke-width="1.2"/>
<rect x="161.4" y="253.2" width="3.4" height="3.4" fill="#fff" stroke="#ff00ff" stroke-width="1.2"/>
<rect x="167.4" y="258.0" width="3.4" height="3.4" fill="#fff" stroke="#ff00ff" stroke-width="1.2"/>
<rect x="173.4" y="258.7" width="3.4" height="3.4" fill="#fff" stroke="#ff00ff" stroke-width="1.2"/>
<rect x="179.4" y="261.8" width="3.4" height="3.4" fill="#fff" stroke="#ff00ff" stroke-width="1.2"/>
<rect x="185.4" y="269.2" width="3.4" height="3.4" fill="#fff" stroke="#ff00ff" stroke-width="1.2"/>
<rect x="191.4" y="273.2" width="3.4" height="3.4" fill="#fff" stroke="#ff00ff" stroke-width="1.2"/>
<rect x="197.4" y="273.5" width="3.4" height="3.4" fill="#fff" stroke="#ff00ff" stroke-width="1.2"/>
<rect x="203.4" y="277.7" width="3.4" height="3.4" fill="#fff" stroke="#ff00ff" stroke-width="1.2"/>
<rect x="209.4" y="279.8" width="3.4" height="3.4" fill="#fff" stroke="#ff00ff" stroke-width="1.2"/>
<rect x="215.4" y="281.3" width="3.4" height="3.4" fill="#fff" stroke="#ff00ff" stroke-width="1.2"/>
<rect x="221.4" y="281.7" width="3.4" height="3.4" fill="#fff" stroke="#ff00ff" stroke-width="1.2"/>
<rect x="227.4" y="283.9" width="3.4" height="3.4" fill="#fff" stroke="#ff00ff" stroke-width="1.2"/>
<rect x="233.4" y="285.5" width="3.4" height="3.4" fill="#fff" stroke="#ff00ff" stroke-width="1.2"/>
<rect x="239.4" y="286.4" width="3.4" height="3.4" fill="#fff" stroke="#ff00ff" stroke-width="1.2"/>
<rect x="245.4" y="285.6" width="3.4" height="3.4" fill="#fff" stroke="#ff00ff" stroke-width="1.2"/>
<rect x="251.4" y="288.1" width="3.4" height="3.4" fill="#fff" stroke="#ff00ff" stroke-width="1.2"/>
<rect x="257.4" y="287.8" width="3.4" height="3.4" fill="#fff" stroke="#ff00ff" stroke-width="1.2"/>
<rect x="263.4" y="287.7" width="3.4" height="3.4" fill="#fff" stroke="#ff00ff" stroke-width="1.2"/>
<rect x="269.4" y="288.1" width="3.4" height="3.4" fill="#fff" stroke="#ff00ff" stroke-width="1.2"/>
<rect x="275.4" y="291.1" width="3.4" height="3.4" fill="#fff" stroke="#ff00ff" stroke-width="1.2"/>
<rect x="281.4" y="289.5" width="3.4" height="3.4" fill="#fff" stroke="#ff00ff" stroke-width="1.2"/>
<rect x="287.4" y="288.5" width="3.4" height="3.4" fill="#fff" stroke="#ff00ff" stroke-width="1.2"/>
<rect x="293.4" y="288.4" width="3.4" height="3.4" fill="#fff" stroke="#ff00ff" stroke-width="1.2"/>
<rect x="299.4" y="291.0" width="3.4" height="3.4" fill="#fff" stroke="#ff00ff" stroke-width="1.2"/>
<rect x="305.4" y="288.8" width="3.4" height="3.4" fill="#fff" stroke="#ff00ff" stroke-width="1.2"/>
<rect x="311.4" y="290.4" width="3.4" height="3.4" fill="#fff" stroke="#ff00ff" stroke-width="1.2"/>
<rect x="317.4" y="290.4" width="3.4" height="3.4" fill="#fff" stroke="#ff00ff" stroke-width="1.2"/>
<rect x="323.4" y="286.7" width="3.4" height="3.4" fill="#fff" stroke="#ff00ff" stroke-width="1.2"/>
<rect x="329.4" y="289.0" width="3.4" height="3.4" fill="#fff" stroke="#ff00ff" stroke-width="1.2"/>
<rect x="335.4" y="284.8" width="3.4" height="3.4" fill="#fff" stroke="#ff00ff" stroke-width="1.2"/>
<rect x="341.4" y="285.0" width="3.4" height="3.4" fill="#fff" stroke="#ff00ff" stroke-width="1.2"/>
<rect x="347.4" y="286.2" width="3.4" height="3.4" fill="#fff" stroke="#ff00ff" stroke-width="1.2"/>
<rect x="353.4" y="287.6" width="3.4" height="3.4" fill="#fff" stroke="#ff00ff" stroke-width="1.2"/>
<rect x="359.4" y="288.5" width="3.4" height="3.4" fill="#fff" stroke="#ff00ff" stroke-width="1.2"/>
<rect x="365.4" y="289.8" width="3.4" height="3.4" fill="#fff" stroke="#ff00ff" stroke-width="1.2"/>
<rect x="371.4" y="288.3" width="3.4" height="3.4" fill="#fff" stroke="#ff00ff" stroke-width="1.2"/>
<rect x="377.4" y="288.6" width="3.4" height="3.4" fill="#fff" stroke="#ff00ff" stroke-width="1.2"/>
<rect x="383.4" y="291.1" width="3.4" height="3.4" fill="#fff" stroke="#ff00ff" stroke-width="1.2"/>
<rect x="389.4" y="290.1" width="3.4" height="3.4" fill="#fff" stroke="#ff00ff" stroke-width="1.2"/>
<rect x="395.4" y="287.2" width="3.4" height="3.4" fill="#fff" stroke="#ff00ff" stroke-width="1.2"/>
<rect x="401.4" y="290.3" width="3.4" height="3.4" fill="#fff" stroke="#ff00ff" stroke-width="1.2"/>
<rect x="407.4" y="291.2" width="3.4" height="3.4" fill="#fff" stroke="#ff00ff" stroke-width="1.2"/>
<rect x="413.4" y="287.9" width="3.4" height="3.4" fill="#fff" stroke="#ff00ff" stroke-width="1.2"/>
<rect x="419.4" y="288.9" width="3.4" height="3.4" fill="#fff" stroke="#ff00ff" stroke-width="1.2"/>
<rect x="425.4" y="290.8" width="3.4" height="3.4" fill="#fff" stroke="#ff00ff" stroke-width="1.2"/>
<rect x="431.4" y="291.3" width="3.4" height="3.4" fill="#fff" stroke="#ff00ff" stroke-width="1.2"/>
</g>
</g>
<rect x="346.5" y="82.5" width="66" height="184" fill="#fff" stroke="#666" stroke-width="1"/>
<line x1="353.4" y1="94.6" x2="380.8" y2="94.6" stroke="#ff0000" stroke-width="1.3" stroke-opacity="0.7"/>
<path d="M367.2,90.9L370.5,96.9L363.9,96.9Z" fill="#ff0000"/>
<text x="407.5" y="98.6" text-anchor="end" style="font-family:'Liberation Sans',sans-serif;font-size:12px">0.5</text>
<line x1="353.4" y1="109.3" x2="380.8" y2="109.3" stroke="#008000" stroke-width="1.3" stroke-opacity="0.7"/>
<path d="M367.2,105.6L370.5,111.6L363.9,111.6Z" fill="#008000"/>
<text x="407.5" y="113.3" text-anchor="end" style="font-family:'Liberation Sans',sans-serif;font-size:12px">1.5</text>
<line x1="353.4" y1="124.0" x2="380.8" y2="124.0" stroke="#0000ff" stroke-width="1.3" stroke-opacity="0.7"/>
<path d="M367.2,120.3L370.5,126.3L363.9,126.3Z" fill="#0000ff"/>
<text x="407.5" y="128.0" text-anchor="end" style="font-family:'Liberation Sans',sans-serif;font-size:12px">4.0</text>
<line x1="353.4" y1="138.7" x2="380.8" y2="138.7" stroke="#ff00ff" stroke-width="1.3" stroke-opacity="0.7"/>
<path d="M367.2,135.0L370.5,141.0L363.9,141.0Z" fill="#ff00ff"/>
<text x="407.5" y="142.7" text-anchor="end" style="font-family:'Liberation Sans',sans-serif;font-size:12px">7.0</text>
<line x1="353.4" y1="153.4" x2="380.8" y2="153.4" stroke="#ff0000" stroke-width="2"/>
<circle cx="367.2" cy="153.1" r="2.2" fill="#fff" stroke="#ff0000" stroke-width="1.5"/>
<text x="407.5" y="157.4" text-anchor="end" style="font-family:'Liberation Sans',sans-serif;font-size:12px">11.0</text>
<line x1="353.4" y1="168.1" x2="380.8" y2="168.1" stroke="#008000" stroke-width="2"/>
<circle cx="367.2" cy="167.8" r="2.2" fill="#fff" stroke="#008000" stroke-width="1.5"/>
<text x="407.5" y="172.1" text-anchor="end" style="font-family:'Liberation Sans',sans-serif;font-size:12px">16.0</text>
<line x1="353.4" y1="182.8" x2="380.8" y2="182.8" stroke="#0000ff" stroke-width="2"/>
<circle cx="367.2" cy="182.5" r="2.2" fill="#fff" stroke="#0000ff" stroke-width="1.5"/>
<text x="407.5" y="186.8" text-anchor="end" style="font-family:'Liberation Sans',sans-serif;font-size:12px">22.0</text>
<line x1="353.4" y1="197.5" x2="380.8" y2="197.5" stroke="#ff00ff" stroke-width="2"/>
<circle cx="367.2" cy="197.2" r="2.2" fill="#fff" stroke="#ff00ff" stroke-width="1.5"/>
<text x="407.5" y="201.5" text-anchor="end" style="font-family:'Liberation Sans',sans-serif;font-size:12px">29.0</text>
<line x1="353.4" y1="212.2" x2="380.8" y2="212.2" stroke="#ff0000" stroke-width="1.7" stroke-opacity="0.45"/>
<rect x="365.3" y="210.0" width="3.8" height="3.8" fill="#fff" stroke="#ff0000" stroke-width="1.4"/>
<text x="407.5" y="216.2" text-anchor="end" style="font-family:'Liberation Sans',sans-serif;font-size:12px">36.0</text>
<line x1="353.4" y1="226.9" x2="380.8" y2="226.9" stroke="#008000" stroke-width="1.7" stroke-opacity="0.45"/>
<rect x="365.3" y="224.7" width="3.8" height="3.8" fill="#fff" stroke="#008000" stroke-width="1.4"/>
<text x="407.5" y="230.9" text-anchor="end" style="font-family:'Liberation Sans',sans-serif;font-size:12px">43.0</text>
<line x1="353.4" y1="241.6" x2="380.8" y2="241.6" stroke="#0000ff" stroke-width="1.7" stroke-opacity="0.45"/>
<rect x="365.3" y="239.4" width="3.8" height="3.8" fill="#fff" stroke="#0000ff" stroke-width="1.4"/>
<text x="407.5" y="245.6" text-anchor="end" style="font-family:'Liberation Sans',sans-serif;font-size:12px">50.0</text>
<line x1="353.4" y1="256.3" x2="380.8" y2="256.3" stroke="#ff00ff" stroke-width="1.7" stroke-opacity="0.45"/>
<rect x="365.3" y="254.1" width="3.8" height="3.8" fill="#fff" stroke="#ff00ff" stroke-width="1.4"/>
<text x="407.5" y="260.3" text-anchor="end" style="font-family:'Liberation Sans',sans-serif;font-size:12px">57.0</text>
</svg>
</body></html>
